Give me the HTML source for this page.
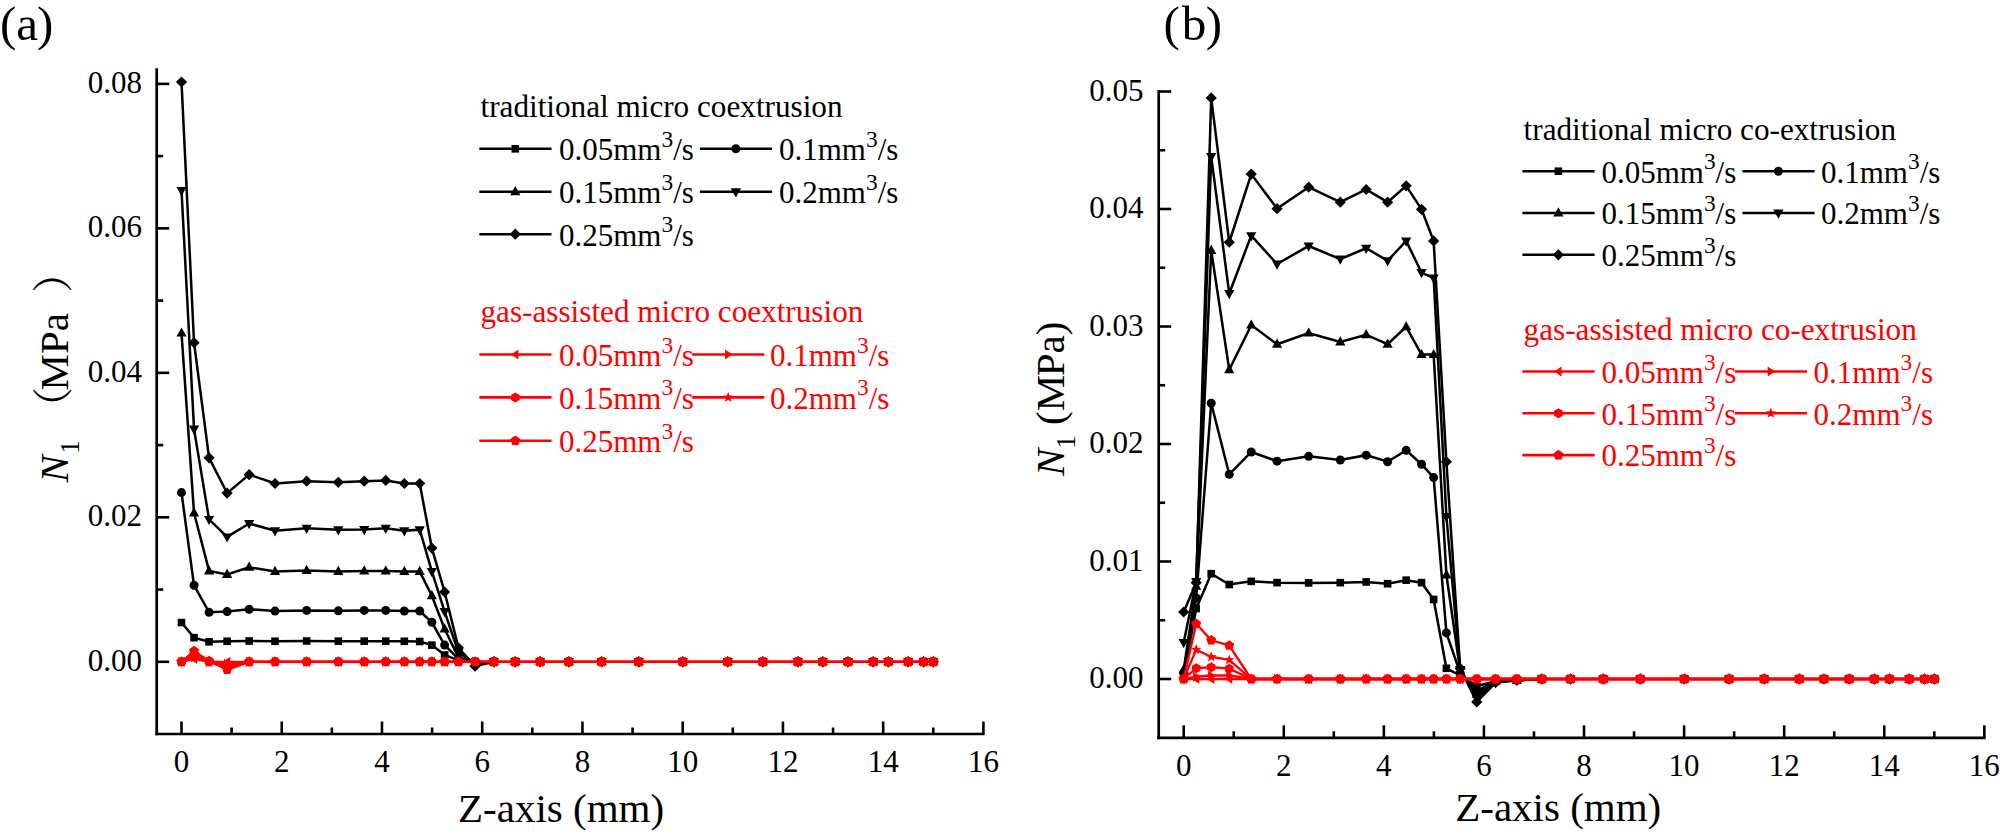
<!DOCTYPE html><html><head><meta charset="utf-8"><title>N1 vs Z-axis</title><style>
html,body{margin:0;padding:0;background:#fff;}svg{display:block;}
text{font-family:'Liberation Serif', 'Times New Roman', serif;}
.tk{font-size:31px;} .lg{font-size:31px;} .sup{font-size:23.4px;} .lt{font-size:31.2px;} .ax{font-size:41px;} .pl{font-size:49px;}
</style></head><body>
<svg width="2000" height="835" viewBox="0 0 2000 835">
<rect width="2000" height="835" fill="#fff"/>
<line x1="156.70" y1="68.30" x2="156.70" y2="735.35" stroke="#000" stroke-width="2.7"/>
<line x1="155.35" y1="734.00" x2="984.60" y2="734.00" stroke="#000" stroke-width="2.7"/>
<line x1="181.50" y1="734.00" x2="181.50" y2="721.50" stroke="#000" stroke-width="2.6"/>
<text x="181.50" y="772.00" text-anchor="middle" class="tk">0</text>
<line x1="231.62" y1="734.00" x2="231.62" y2="727.50" stroke="#000" stroke-width="2.6"/>
<line x1="281.74" y1="734.00" x2="281.74" y2="721.50" stroke="#000" stroke-width="2.6"/>
<text x="281.74" y="772.00" text-anchor="middle" class="tk">2</text>
<line x1="331.86" y1="734.00" x2="331.86" y2="727.50" stroke="#000" stroke-width="2.6"/>
<line x1="381.98" y1="734.00" x2="381.98" y2="721.50" stroke="#000" stroke-width="2.6"/>
<text x="381.98" y="772.00" text-anchor="middle" class="tk">4</text>
<line x1="432.10" y1="734.00" x2="432.10" y2="727.50" stroke="#000" stroke-width="2.6"/>
<line x1="482.22" y1="734.00" x2="482.22" y2="721.50" stroke="#000" stroke-width="2.6"/>
<text x="482.22" y="772.00" text-anchor="middle" class="tk">6</text>
<line x1="532.34" y1="734.00" x2="532.34" y2="727.50" stroke="#000" stroke-width="2.6"/>
<line x1="582.46" y1="734.00" x2="582.46" y2="721.50" stroke="#000" stroke-width="2.6"/>
<text x="582.46" y="772.00" text-anchor="middle" class="tk">8</text>
<line x1="632.58" y1="734.00" x2="632.58" y2="727.50" stroke="#000" stroke-width="2.6"/>
<line x1="682.70" y1="734.00" x2="682.70" y2="721.50" stroke="#000" stroke-width="2.6"/>
<text x="682.70" y="772.00" text-anchor="middle" class="tk">10</text>
<line x1="732.82" y1="734.00" x2="732.82" y2="727.50" stroke="#000" stroke-width="2.6"/>
<line x1="782.94" y1="734.00" x2="782.94" y2="721.50" stroke="#000" stroke-width="2.6"/>
<text x="782.94" y="772.00" text-anchor="middle" class="tk">12</text>
<line x1="833.06" y1="734.00" x2="833.06" y2="727.50" stroke="#000" stroke-width="2.6"/>
<line x1="883.18" y1="734.00" x2="883.18" y2="721.50" stroke="#000" stroke-width="2.6"/>
<text x="883.18" y="772.00" text-anchor="middle" class="tk">14</text>
<line x1="933.30" y1="734.00" x2="933.30" y2="727.50" stroke="#000" stroke-width="2.6"/>
<line x1="983.42" y1="734.00" x2="983.42" y2="721.50" stroke="#000" stroke-width="2.6"/>
<text x="983.42" y="772.00" text-anchor="middle" class="tk">16</text>
<line x1="156.70" y1="661.80" x2="169.20" y2="661.80" stroke="#000" stroke-width="2.6"/>
<text x="142.00" y="670.80" text-anchor="end" class="tk">0.00</text>
<line x1="156.70" y1="589.56" x2="163.20" y2="589.56" stroke="#000" stroke-width="2.6"/>
<line x1="156.70" y1="517.32" x2="169.20" y2="517.32" stroke="#000" stroke-width="2.6"/>
<text x="142.00" y="526.32" text-anchor="end" class="tk">0.02</text>
<line x1="156.70" y1="445.08" x2="163.20" y2="445.08" stroke="#000" stroke-width="2.6"/>
<line x1="156.70" y1="372.84" x2="169.20" y2="372.84" stroke="#000" stroke-width="2.6"/>
<text x="142.00" y="381.84" text-anchor="end" class="tk">0.04</text>
<line x1="156.70" y1="300.60" x2="163.20" y2="300.60" stroke="#000" stroke-width="2.6"/>
<line x1="156.70" y1="228.36" x2="169.20" y2="228.36" stroke="#000" stroke-width="2.6"/>
<text x="142.00" y="237.36" text-anchor="end" class="tk">0.06</text>
<line x1="156.70" y1="156.12" x2="163.20" y2="156.12" stroke="#000" stroke-width="2.6"/>
<line x1="156.70" y1="83.88" x2="169.20" y2="83.88" stroke="#000" stroke-width="2.6"/>
<text x="142.00" y="92.88" text-anchor="end" class="tk">0.08</text>
<polyline points="181.50,622.57 194.03,637.67 209.07,641.79 227.11,641.28 249.16,640.99 275.02,641.28 306.65,640.99 338.33,641.14 364.24,641.14 385.74,641.14 404.33,641.28 419.72,641.50 431.85,645.11 444.63,655.01 458.41,660.36 475.05,661.80" fill="none" stroke="#000" stroke-width="2.5" stroke-linejoin="miter" stroke-miterlimit="3"/><rect x="177.70" y="618.77" width="7.6" height="7.6" fill="#000"/><rect x="190.23" y="633.87" width="7.6" height="7.6" fill="#000"/><rect x="205.27" y="637.99" width="7.6" height="7.6" fill="#000"/><rect x="223.31" y="637.48" width="7.6" height="7.6" fill="#000"/><rect x="245.36" y="637.19" width="7.6" height="7.6" fill="#000"/><rect x="271.22" y="637.48" width="7.6" height="7.6" fill="#000"/><rect x="302.85" y="637.19" width="7.6" height="7.6" fill="#000"/><rect x="334.53" y="637.34" width="7.6" height="7.6" fill="#000"/><rect x="360.44" y="637.34" width="7.6" height="7.6" fill="#000"/><rect x="381.94" y="637.34" width="7.6" height="7.6" fill="#000"/><rect x="400.53" y="637.48" width="7.6" height="7.6" fill="#000"/><rect x="415.92" y="637.70" width="7.6" height="7.6" fill="#000"/><rect x="428.05" y="641.31" width="7.6" height="7.6" fill="#000"/><rect x="440.83" y="651.21" width="7.6" height="7.6" fill="#000"/><rect x="454.61" y="656.56" width="7.6" height="7.6" fill="#000"/><rect x="471.25" y="658.00" width="7.6" height="7.6" fill="#000"/><rect x="490.10" y="658.00" width="7.6" height="7.6" fill="#000"/><rect x="511.35" y="658.00" width="7.6" height="7.6" fill="#000"/><rect x="536.36" y="658.00" width="7.6" height="7.6" fill="#000"/><rect x="565.03" y="658.00" width="7.6" height="7.6" fill="#000"/><rect x="597.91" y="658.00" width="7.6" height="7.6" fill="#000"/><rect x="634.99" y="658.00" width="7.6" height="7.6" fill="#000"/><rect x="679.05" y="658.00" width="7.6" height="7.6" fill="#000"/><rect x="723.91" y="658.00" width="7.6" height="7.6" fill="#000"/><rect x="759.09" y="658.00" width="7.6" height="7.6" fill="#000"/><rect x="794.18" y="658.00" width="7.6" height="7.6" fill="#000"/><rect x="818.99" y="658.00" width="7.6" height="7.6" fill="#000"/><rect x="844.20" y="658.00" width="7.6" height="7.6" fill="#000"/><rect x="869.41" y="658.00" width="7.6" height="7.6" fill="#000"/><rect x="884.49" y="658.00" width="7.6" height="7.6" fill="#000"/><rect x="904.39" y="658.00" width="7.6" height="7.6" fill="#000"/><rect x="919.78" y="658.00" width="7.6" height="7.6" fill="#000"/><rect x="929.50" y="658.00" width="7.6" height="7.6" fill="#000"/>
<polyline points="181.50,492.61 194.03,585.30 209.07,612.32 227.11,611.59 249.16,609.21 275.02,611.09 306.65,610.44 338.33,610.87 364.24,610.44 385.74,610.44 404.33,611.02 419.72,611.02 431.85,622.28 444.63,645.11 458.41,658.91 475.05,661.80" fill="none" stroke="#000" stroke-width="2.5" stroke-linejoin="miter" stroke-miterlimit="3"/><circle cx="181.50" cy="492.61" r="4.5" fill="#000"/><circle cx="194.03" cy="585.30" r="4.5" fill="#000"/><circle cx="209.07" cy="612.32" r="4.5" fill="#000"/><circle cx="227.11" cy="611.59" r="4.5" fill="#000"/><circle cx="249.16" cy="609.21" r="4.5" fill="#000"/><circle cx="275.02" cy="611.09" r="4.5" fill="#000"/><circle cx="306.65" cy="610.44" r="4.5" fill="#000"/><circle cx="338.33" cy="610.87" r="4.5" fill="#000"/><circle cx="364.24" cy="610.44" r="4.5" fill="#000"/><circle cx="385.74" cy="610.44" r="4.5" fill="#000"/><circle cx="404.33" cy="611.02" r="4.5" fill="#000"/><circle cx="419.72" cy="611.02" r="4.5" fill="#000"/><circle cx="431.85" cy="622.28" r="4.5" fill="#000"/><circle cx="444.63" cy="645.11" r="4.5" fill="#000"/><circle cx="458.41" cy="658.91" r="4.5" fill="#000"/><circle cx="475.05" cy="661.80" r="4.5" fill="#000"/><circle cx="493.90" cy="661.80" r="4.5" fill="#000"/><circle cx="515.15" cy="661.80" r="4.5" fill="#000"/><circle cx="540.16" cy="661.80" r="4.5" fill="#000"/><circle cx="568.83" cy="661.80" r="4.5" fill="#000"/><circle cx="601.71" cy="661.80" r="4.5" fill="#000"/><circle cx="638.79" cy="661.80" r="4.5" fill="#000"/><circle cx="682.85" cy="661.80" r="4.5" fill="#000"/><circle cx="727.71" cy="661.80" r="4.5" fill="#000"/><circle cx="762.89" cy="661.80" r="4.5" fill="#000"/><circle cx="797.98" cy="661.80" r="4.5" fill="#000"/><circle cx="822.79" cy="661.80" r="4.5" fill="#000"/><circle cx="848.00" cy="661.80" r="4.5" fill="#000"/><circle cx="873.21" cy="661.80" r="4.5" fill="#000"/><circle cx="888.29" cy="661.80" r="4.5" fill="#000"/><circle cx="908.19" cy="661.80" r="4.5" fill="#000"/><circle cx="923.58" cy="661.80" r="4.5" fill="#000"/><circle cx="933.30" cy="661.80" r="4.5" fill="#000"/>
<polyline points="181.50,333.11 194.03,512.91 209.07,570.92 227.11,574.53 249.16,567.31 275.02,571.43 306.65,570.42 338.33,571.43 364.24,570.92 385.74,570.92 404.33,571.57 419.72,571.57 431.85,595.70 444.63,628.93 458.41,657.47 475.05,662.52 493.90,661.80" fill="none" stroke="#000" stroke-width="2.5" stroke-linejoin="miter" stroke-miterlimit="3"/><polygon points="181.50,327.40 186.60,336.60 176.40,336.60" fill="#000"/><polygon points="194.03,507.21 199.13,516.41 188.93,516.41" fill="#000"/><polygon points="209.07,565.22 214.17,574.42 203.97,574.42" fill="#000"/><polygon points="227.11,568.83 232.21,578.03 222.01,578.03" fill="#000"/><polygon points="249.16,561.61 254.26,570.81 244.06,570.81" fill="#000"/><polygon points="275.02,565.72 280.12,574.92 269.92,574.92" fill="#000"/><polygon points="306.65,564.71 311.75,573.91 301.55,573.91" fill="#000"/><polygon points="338.33,565.72 343.43,574.92 333.23,574.92" fill="#000"/><polygon points="364.24,565.22 369.34,574.42 359.14,574.42" fill="#000"/><polygon points="385.74,565.22 390.84,574.42 380.64,574.42" fill="#000"/><polygon points="404.33,565.87 409.43,575.07 399.23,575.07" fill="#000"/><polygon points="419.72,565.87 424.82,575.07 414.62,575.07" fill="#000"/><polygon points="431.85,590.00 436.95,599.20 426.75,599.20" fill="#000"/><polygon points="444.63,623.23 449.73,632.43 439.53,632.43" fill="#000"/><polygon points="458.41,651.76 463.51,660.96 453.31,660.96" fill="#000"/><polygon points="475.05,656.82 480.15,666.02 469.95,666.02" fill="#000"/><polygon points="493.90,656.10 499.00,665.30 488.80,665.30" fill="#000"/><polygon points="515.15,656.10 520.25,665.30 510.05,665.30" fill="#000"/><polygon points="540.16,656.10 545.26,665.30 535.06,665.30" fill="#000"/><polygon points="568.83,656.10 573.93,665.30 563.73,665.30" fill="#000"/><polygon points="601.71,656.10 606.81,665.30 596.61,665.30" fill="#000"/><polygon points="638.79,656.10 643.89,665.30 633.69,665.30" fill="#000"/><polygon points="682.85,656.10 687.95,665.30 677.75,665.30" fill="#000"/><polygon points="727.71,656.10 732.81,665.30 722.61,665.30" fill="#000"/><polygon points="762.89,656.10 767.99,665.30 757.79,665.30" fill="#000"/><polygon points="797.98,656.10 803.08,665.30 792.88,665.30" fill="#000"/><polygon points="822.79,656.10 827.89,665.30 817.69,665.30" fill="#000"/><polygon points="848.00,656.10 853.10,665.30 842.90,665.30" fill="#000"/><polygon points="873.21,656.10 878.31,665.30 868.11,665.30" fill="#000"/><polygon points="888.29,656.10 893.39,665.30 883.19,665.30" fill="#000"/><polygon points="908.19,656.10 913.29,665.30 903.09,665.30" fill="#000"/><polygon points="923.58,656.10 928.68,665.30 918.48,665.30" fill="#000"/><polygon points="933.30,656.10 938.40,665.30 928.20,665.30" fill="#000"/>
<polyline points="181.50,190.43 194.03,429.11 209.07,519.41 227.11,536.90 249.16,523.53 275.02,530.68 306.65,528.30 338.33,529.67 364.24,529.53 385.74,528.30 404.33,530.68 419.72,529.67 431.85,571.43 444.63,611.59 458.41,652.41 475.05,663.24 493.90,661.80" fill="none" stroke="#000" stroke-width="2.5" stroke-linejoin="miter" stroke-miterlimit="3"/><polygon points="181.50,196.14 186.60,186.94 176.40,186.94" fill="#000"/><polygon points="194.03,434.82 199.13,425.62 188.93,425.62" fill="#000"/><polygon points="209.07,525.12 214.17,515.92 203.97,515.92" fill="#000"/><polygon points="227.11,542.60 232.21,533.40 222.01,533.40" fill="#000"/><polygon points="249.16,529.24 254.26,520.04 244.06,520.04" fill="#000"/><polygon points="275.02,536.39 280.12,527.19 269.92,527.19" fill="#000"/><polygon points="306.65,534.00 311.75,524.80 301.55,524.80" fill="#000"/><polygon points="338.33,535.38 343.43,526.18 333.23,526.18" fill="#000"/><polygon points="364.24,535.23 369.34,526.03 359.14,526.03" fill="#000"/><polygon points="385.74,534.00 390.84,524.80 380.64,524.80" fill="#000"/><polygon points="404.33,536.39 409.43,527.19 399.23,527.19" fill="#000"/><polygon points="419.72,535.38 424.82,526.18 414.62,526.18" fill="#000"/><polygon points="431.85,577.13 436.95,567.93 426.75,567.93" fill="#000"/><polygon points="444.63,617.30 449.73,608.10 439.53,608.10" fill="#000"/><polygon points="458.41,658.11 463.51,648.91 453.31,648.91" fill="#000"/><polygon points="475.05,668.95 480.15,659.75 469.95,659.75" fill="#000"/><polygon points="493.90,667.50 499.00,658.30 488.80,658.30" fill="#000"/><polygon points="515.15,667.50 520.25,658.30 510.05,658.30" fill="#000"/><polygon points="540.16,667.50 545.26,658.30 535.06,658.30" fill="#000"/><polygon points="568.83,667.50 573.93,658.30 563.73,658.30" fill="#000"/><polygon points="601.71,667.50 606.81,658.30 596.61,658.30" fill="#000"/><polygon points="638.79,667.50 643.89,658.30 633.69,658.30" fill="#000"/><polygon points="682.85,667.50 687.95,658.30 677.75,658.30" fill="#000"/><polygon points="727.71,667.50 732.81,658.30 722.61,658.30" fill="#000"/><polygon points="762.89,667.50 767.99,658.30 757.79,658.30" fill="#000"/><polygon points="797.98,667.50 803.08,658.30 792.88,658.30" fill="#000"/><polygon points="822.79,667.50 827.89,658.30 817.69,658.30" fill="#000"/><polygon points="848.00,667.50 853.10,658.30 842.90,658.30" fill="#000"/><polygon points="873.21,667.50 878.31,658.30 868.11,658.30" fill="#000"/><polygon points="888.29,667.50 893.39,658.30 883.19,658.30" fill="#000"/><polygon points="908.19,667.50 913.29,658.30 903.09,658.30" fill="#000"/><polygon points="923.58,667.50 928.68,658.30 918.48,658.30" fill="#000"/><polygon points="933.30,667.50 938.40,658.30 928.20,658.30" fill="#000"/>
<polyline points="181.50,82.00 194.03,342.72 209.07,457.79 227.11,493.12 249.16,474.63 275.02,483.51 306.65,481.13 338.33,482.28 364.24,481.13 385.74,480.41 404.33,483.51 419.72,483.51 431.85,548.09 444.63,592.02 458.41,647.79 475.05,666.13 493.90,661.80" fill="none" stroke="#000" stroke-width="2.5" stroke-linejoin="miter" stroke-miterlimit="3"/><polygon points="181.50,76.40 187.10,82.00 181.50,87.60 175.90,82.00" fill="#000"/><polygon points="194.03,337.12 199.63,342.72 194.03,348.32 188.43,342.72" fill="#000"/><polygon points="209.07,452.19 214.67,457.79 209.07,463.39 203.47,457.79" fill="#000"/><polygon points="227.11,487.52 232.71,493.12 227.11,498.72 221.51,493.12" fill="#000"/><polygon points="249.16,469.03 254.76,474.63 249.16,480.23 243.56,474.63" fill="#000"/><polygon points="275.02,477.91 280.62,483.51 275.02,489.11 269.42,483.51" fill="#000"/><polygon points="306.65,475.53 312.25,481.13 306.65,486.73 301.05,481.13" fill="#000"/><polygon points="338.33,476.68 343.93,482.28 338.33,487.88 332.73,482.28" fill="#000"/><polygon points="364.24,475.53 369.84,481.13 364.24,486.73 358.64,481.13" fill="#000"/><polygon points="385.74,474.81 391.34,480.41 385.74,486.01 380.14,480.41" fill="#000"/><polygon points="404.33,477.91 409.93,483.51 404.33,489.11 398.73,483.51" fill="#000"/><polygon points="419.72,477.91 425.32,483.51 419.72,489.11 414.12,483.51" fill="#000"/><polygon points="431.85,542.49 437.45,548.09 431.85,553.69 426.25,548.09" fill="#000"/><polygon points="444.63,586.42 450.23,592.02 444.63,597.62 439.03,592.02" fill="#000"/><polygon points="458.41,642.19 464.01,647.79 458.41,653.39 452.81,647.79" fill="#000"/><polygon points="475.05,660.53 480.65,666.13 475.05,671.73 469.45,666.13" fill="#000"/><polygon points="493.90,656.20 499.50,661.80 493.90,667.40 488.30,661.80" fill="#000"/><polygon points="515.15,656.20 520.75,661.80 515.15,667.40 509.55,661.80" fill="#000"/><polygon points="540.16,656.20 545.76,661.80 540.16,667.40 534.56,661.80" fill="#000"/><polygon points="568.83,656.20 574.43,661.80 568.83,667.40 563.23,661.80" fill="#000"/><polygon points="601.71,656.20 607.31,661.80 601.71,667.40 596.11,661.80" fill="#000"/><polygon points="638.79,656.20 644.39,661.80 638.79,667.40 633.19,661.80" fill="#000"/><polygon points="682.85,656.20 688.45,661.80 682.85,667.40 677.25,661.80" fill="#000"/><polygon points="727.71,656.20 733.31,661.80 727.71,667.40 722.11,661.80" fill="#000"/><polygon points="762.89,656.20 768.49,661.80 762.89,667.40 757.29,661.80" fill="#000"/><polygon points="797.98,656.20 803.58,661.80 797.98,667.40 792.38,661.80" fill="#000"/><polygon points="822.79,656.20 828.39,661.80 822.79,667.40 817.19,661.80" fill="#000"/><polygon points="848.00,656.20 853.60,661.80 848.00,667.40 842.40,661.80" fill="#000"/><polygon points="873.21,656.20 878.81,661.80 873.21,667.40 867.61,661.80" fill="#000"/><polygon points="888.29,656.20 893.89,661.80 888.29,667.40 882.69,661.80" fill="#000"/><polygon points="908.19,656.20 913.79,661.80 908.19,667.40 902.59,661.80" fill="#000"/><polygon points="923.58,656.20 929.18,661.80 923.58,667.40 917.98,661.80" fill="#000"/><polygon points="933.30,656.20 938.90,661.80 933.30,667.40 927.70,661.80" fill="#000"/>
<polyline points="181.50,661.80 194.03,658.91 209.07,661.80 227.11,661.80 249.16,661.80 275.02,661.80 306.65,661.80 338.33,661.80 364.24,661.80 385.74,661.80 404.33,661.80 419.72,661.80 431.85,661.80 444.63,661.80 458.41,661.80 475.05,661.80 493.90,661.80 515.15,661.80 540.16,661.80 568.83,661.80 601.71,661.80 638.79,661.80 682.85,661.80 727.71,661.80 762.89,661.80 797.98,661.80 822.79,661.80 848.00,661.80 873.21,661.80 888.29,661.80 908.19,661.80 923.58,661.80 933.30,661.80" fill="none" stroke="#f00" stroke-width="2.3" stroke-linejoin="miter" stroke-miterlimit="3"/><polygon points="177.21,661.80 184.61,656.70 184.61,666.90" fill="#f00"/><polygon points="189.74,658.91 197.14,653.81 197.14,664.01" fill="#f00"/><polygon points="204.77,661.80 212.17,656.70 212.17,666.90" fill="#f00"/><polygon points="222.82,661.80 230.22,656.70 230.22,666.90" fill="#f00"/><polygon points="244.87,661.80 252.27,656.70 252.27,666.90" fill="#f00"/><polygon points="270.73,661.80 278.13,656.70 278.13,666.90" fill="#f00"/><polygon points="302.36,661.80 309.76,656.70 309.76,666.90" fill="#f00"/><polygon points="334.03,661.80 341.43,656.70 341.43,666.90" fill="#f00"/><polygon points="359.95,661.80 367.35,656.70 367.35,666.90" fill="#f00"/><polygon points="381.45,661.80 388.85,656.70 388.85,666.90" fill="#f00"/><polygon points="400.04,661.80 407.44,656.70 407.44,666.90" fill="#f00"/><polygon points="415.43,661.80 422.83,656.70 422.83,666.90" fill="#f00"/><polygon points="427.56,661.80 434.96,656.70 434.96,666.90" fill="#f00"/><polygon points="440.34,661.80 447.74,656.70 447.74,666.90" fill="#f00"/><polygon points="454.12,661.80 461.52,656.70 461.52,666.90" fill="#f00"/><polygon points="470.76,661.80 478.16,656.70 478.16,666.90" fill="#f00"/><polygon points="489.61,661.80 497.01,656.70 497.01,666.90" fill="#f00"/><polygon points="510.86,661.80 518.26,656.70 518.26,666.90" fill="#f00"/><polygon points="535.87,661.80 543.27,656.70 543.27,666.90" fill="#f00"/><polygon points="564.54,661.80 571.94,656.70 571.94,666.90" fill="#f00"/><polygon points="597.41,661.80 604.81,656.70 604.81,666.90" fill="#f00"/><polygon points="634.50,661.80 641.90,656.70 641.90,666.90" fill="#f00"/><polygon points="678.56,661.80 685.96,656.70 685.96,666.90" fill="#f00"/><polygon points="723.42,661.80 730.82,656.70 730.82,666.90" fill="#f00"/><polygon points="758.60,661.80 766.00,656.70 766.00,666.90" fill="#f00"/><polygon points="793.68,661.80 801.08,656.70 801.08,666.90" fill="#f00"/><polygon points="818.49,661.80 825.89,656.70 825.89,666.90" fill="#f00"/><polygon points="843.70,661.80 851.10,656.70 851.10,666.90" fill="#f00"/><polygon points="868.91,661.80 876.31,656.70 876.31,666.90" fill="#f00"/><polygon points="884.00,661.80 891.40,656.70 891.40,666.90" fill="#f00"/><polygon points="903.90,661.80 911.30,656.70 911.30,666.90" fill="#f00"/><polygon points="919.28,661.80 926.68,656.70 926.68,666.90" fill="#f00"/><polygon points="929.01,661.80 936.41,656.70 936.41,666.90" fill="#f00"/>
<polyline points="181.50,661.80 194.03,657.47 209.07,661.80 227.11,663.97 249.16,661.80 275.02,661.80 306.65,661.80 338.33,661.80 364.24,661.80 385.74,661.80 404.33,661.80 419.72,661.80 431.85,661.80 444.63,661.80 458.41,661.80 475.05,661.80 493.90,661.80 515.15,661.80 540.16,661.80 568.83,661.80 601.71,661.80 638.79,661.80 682.85,661.80 727.71,661.80 762.89,661.80 797.98,661.80 822.79,661.80 848.00,661.80 873.21,661.80 888.29,661.80 908.19,661.80 923.58,661.80 933.30,661.80" fill="none" stroke="#f00" stroke-width="2.3" stroke-linejoin="miter" stroke-miterlimit="3"/><polygon points="185.79,661.80 178.39,656.70 178.39,666.90" fill="#f00"/><polygon points="198.32,657.47 190.92,652.37 190.92,662.57" fill="#f00"/><polygon points="213.36,661.80 205.96,656.70 205.96,666.90" fill="#f00"/><polygon points="231.40,663.97 224.00,658.87 224.00,669.07" fill="#f00"/><polygon points="253.45,661.80 246.05,656.70 246.05,666.90" fill="#f00"/><polygon points="279.32,661.80 271.92,656.70 271.92,666.90" fill="#f00"/><polygon points="310.94,661.80 303.54,656.70 303.54,666.90" fill="#f00"/><polygon points="342.62,661.80 335.22,656.70 335.22,666.90" fill="#f00"/><polygon points="368.53,661.80 361.13,656.70 361.13,666.90" fill="#f00"/><polygon points="390.03,661.80 382.63,656.70 382.63,666.90" fill="#f00"/><polygon points="408.63,661.80 401.23,656.70 401.23,666.90" fill="#f00"/><polygon points="424.01,661.80 416.61,656.70 416.61,666.90" fill="#f00"/><polygon points="436.14,661.80 428.74,656.70 428.74,666.90" fill="#f00"/><polygon points="448.92,661.80 441.52,656.70 441.52,666.90" fill="#f00"/><polygon points="462.70,661.80 455.31,656.70 455.31,666.90" fill="#f00"/><polygon points="479.34,661.80 471.94,656.70 471.94,666.90" fill="#f00"/><polygon points="498.19,661.80 490.79,656.70 490.79,666.90" fill="#f00"/><polygon points="519.44,661.80 512.04,656.70 512.04,666.90" fill="#f00"/><polygon points="544.45,661.80 537.05,656.70 537.05,666.90" fill="#f00"/><polygon points="573.12,661.80 565.72,656.70 565.72,666.90" fill="#f00"/><polygon points="606.00,661.80 598.60,656.70 598.60,666.90" fill="#f00"/><polygon points="643.09,661.80 635.69,656.70 635.69,666.90" fill="#f00"/><polygon points="687.14,661.80 679.74,656.70 679.74,666.90" fill="#f00"/><polygon points="732.00,661.80 724.60,656.70 724.60,666.90" fill="#f00"/><polygon points="767.18,661.80 759.78,656.70 759.78,666.90" fill="#f00"/><polygon points="802.27,661.80 794.87,656.70 794.87,666.90" fill="#f00"/><polygon points="827.08,661.80 819.68,656.70 819.68,666.90" fill="#f00"/><polygon points="852.29,661.80 844.89,656.70 844.89,666.90" fill="#f00"/><polygon points="877.50,661.80 870.10,656.70 870.10,666.90" fill="#f00"/><polygon points="892.58,661.80 885.18,656.70 885.18,666.90" fill="#f00"/><polygon points="912.48,661.80 905.08,656.70 905.08,666.90" fill="#f00"/><polygon points="927.87,661.80 920.47,656.70 920.47,666.90" fill="#f00"/><polygon points="937.59,661.80 930.19,656.70 930.19,666.90" fill="#f00"/>
<polyline points="181.50,661.80 194.03,656.02 209.07,661.80 227.11,666.13 249.16,661.80 275.02,661.80 306.65,661.80 338.33,661.80 364.24,661.80 385.74,661.80 404.33,661.80 419.72,661.80 431.85,661.80 444.63,661.80 458.41,661.80 475.05,661.80 493.90,661.80 515.15,661.80 540.16,661.80 568.83,661.80 601.71,661.80 638.79,661.80 682.85,661.80 727.71,661.80 762.89,661.80 797.98,661.80 822.79,661.80 848.00,661.80 873.21,661.80 888.29,661.80 908.19,661.80 923.58,661.80 933.30,661.80" fill="none" stroke="#f00" stroke-width="2.3" stroke-linejoin="miter" stroke-miterlimit="3"/><polygon points="181.50,656.80 177.17,659.30 177.17,664.30 181.50,666.80 185.83,664.30 185.83,659.30" fill="#f00"/><polygon points="194.03,651.02 189.70,653.52 189.70,658.52 194.03,661.02 198.36,658.52 198.36,653.52" fill="#f00"/><polygon points="209.07,656.80 204.74,659.30 204.74,664.30 209.07,666.80 213.40,664.30 213.40,659.30" fill="#f00"/><polygon points="227.11,661.13 222.78,663.63 222.78,668.63 227.11,671.13 231.44,668.63 231.44,663.63" fill="#f00"/><polygon points="249.16,656.80 244.83,659.30 244.83,664.30 249.16,666.80 253.49,664.30 253.49,659.30" fill="#f00"/><polygon points="275.02,656.80 270.69,659.30 270.69,664.30 275.02,666.80 279.35,664.30 279.35,659.30" fill="#f00"/><polygon points="306.65,656.80 302.32,659.30 302.32,664.30 306.65,666.80 310.98,664.30 310.98,659.30" fill="#f00"/><polygon points="338.33,656.80 334.00,659.30 334.00,664.30 338.33,666.80 342.66,664.30 342.66,659.30" fill="#f00"/><polygon points="364.24,656.80 359.91,659.30 359.91,664.30 364.24,666.80 368.57,664.30 368.57,659.30" fill="#f00"/><polygon points="385.74,656.80 381.41,659.30 381.41,664.30 385.74,666.80 390.07,664.30 390.07,659.30" fill="#f00"/><polygon points="404.33,656.80 400.00,659.30 400.00,664.30 404.33,666.80 408.66,664.30 408.66,659.30" fill="#f00"/><polygon points="419.72,656.80 415.39,659.30 415.39,664.30 419.72,666.80 424.05,664.30 424.05,659.30" fill="#f00"/><polygon points="431.85,656.80 427.52,659.30 427.52,664.30 431.85,666.80 436.18,664.30 436.18,659.30" fill="#f00"/><polygon points="444.63,656.80 440.30,659.30 440.30,664.30 444.63,666.80 448.96,664.30 448.96,659.30" fill="#f00"/><polygon points="458.41,656.80 454.08,659.30 454.08,664.30 458.41,666.80 462.74,664.30 462.74,659.30" fill="#f00"/><polygon points="475.05,656.80 470.72,659.30 470.72,664.30 475.05,666.80 479.38,664.30 479.38,659.30" fill="#f00"/><polygon points="493.90,656.80 489.57,659.30 489.57,664.30 493.90,666.80 498.23,664.30 498.23,659.30" fill="#f00"/><polygon points="515.15,656.80 510.82,659.30 510.82,664.30 515.15,666.80 519.48,664.30 519.48,659.30" fill="#f00"/><polygon points="540.16,656.80 535.83,659.30 535.83,664.30 540.16,666.80 544.49,664.30 544.49,659.30" fill="#f00"/><polygon points="568.83,656.80 564.50,659.30 564.50,664.30 568.83,666.80 573.16,664.30 573.16,659.30" fill="#f00"/><polygon points="601.71,656.80 597.38,659.30 597.38,664.30 601.71,666.80 606.04,664.30 606.04,659.30" fill="#f00"/><polygon points="638.79,656.80 634.46,659.30 634.46,664.30 638.79,666.80 643.13,664.30 643.13,659.30" fill="#f00"/><polygon points="682.85,656.80 678.52,659.30 678.52,664.30 682.85,666.80 687.18,664.30 687.18,659.30" fill="#f00"/><polygon points="727.71,656.80 723.38,659.30 723.38,664.30 727.71,666.80 732.04,664.30 732.04,659.30" fill="#f00"/><polygon points="762.89,656.80 758.56,659.30 758.56,664.30 762.89,666.80 767.22,664.30 767.22,659.30" fill="#f00"/><polygon points="797.98,656.80 793.65,659.30 793.65,664.30 797.98,666.80 802.31,664.30 802.31,659.30" fill="#f00"/><polygon points="822.79,656.80 818.46,659.30 818.46,664.30 822.79,666.80 827.12,664.30 827.12,659.30" fill="#f00"/><polygon points="848.00,656.80 843.67,659.30 843.67,664.30 848.00,666.80 852.33,664.30 852.33,659.30" fill="#f00"/><polygon points="873.21,656.80 868.88,659.30 868.88,664.30 873.21,666.80 877.54,664.30 877.54,659.30" fill="#f00"/><polygon points="888.29,656.80 883.96,659.30 883.96,664.30 888.29,666.80 892.62,664.30 892.62,659.30" fill="#f00"/><polygon points="908.19,656.80 903.86,659.30 903.86,664.30 908.19,666.80 912.52,664.30 912.52,659.30" fill="#f00"/><polygon points="923.58,656.80 919.25,659.30 919.25,664.30 923.58,666.80 927.91,664.30 927.91,659.30" fill="#f00"/><polygon points="933.30,656.80 928.97,659.30 928.97,664.30 933.30,666.80 937.63,664.30 937.63,659.30" fill="#f00"/>
<polyline points="181.50,661.80 194.03,653.85 209.07,661.80 227.11,667.58 249.16,661.80 275.02,661.80 306.65,661.80 338.33,661.80 364.24,661.80 385.74,661.80 404.33,661.80 419.72,661.80 431.85,661.80 444.63,661.80 458.41,661.80 475.05,661.80 493.90,661.80 515.15,661.80 540.16,661.80 568.83,661.80 601.71,661.80 638.79,661.80 682.85,661.80 727.71,661.80 762.89,661.80 797.98,661.80 822.79,661.80 848.00,661.80 873.21,661.80 888.29,661.80 908.19,661.80 923.58,661.80 933.30,661.80" fill="none" stroke="#f00" stroke-width="2.3" stroke-linejoin="miter" stroke-miterlimit="3"/><polygon points="181.50,656.20 180.09,659.86 176.17,660.07 179.22,662.54 178.21,666.33 181.50,664.20 184.79,666.33 183.78,662.54 186.83,660.07 182.91,659.86" fill="#f00"/><polygon points="194.03,648.25 192.62,651.91 188.70,652.12 191.75,654.60 190.74,658.38 194.03,656.25 197.32,658.38 196.31,654.60 199.36,652.12 195.44,651.91" fill="#f00"/><polygon points="209.07,656.20 207.66,659.86 203.74,660.07 206.78,662.54 205.77,666.33 209.07,664.20 212.36,666.33 211.35,662.54 214.39,660.07 210.48,659.86" fill="#f00"/><polygon points="227.11,661.98 225.70,665.64 221.78,665.85 224.83,668.32 223.82,672.11 227.11,669.98 230.40,672.11 229.39,668.32 232.44,665.85 228.52,665.64" fill="#f00"/><polygon points="249.16,656.20 247.75,659.86 243.84,660.07 246.88,662.54 245.87,666.33 249.16,664.20 252.45,666.33 251.44,662.54 254.49,660.07 250.57,659.86" fill="#f00"/><polygon points="275.02,656.20 273.61,659.86 269.70,660.07 272.74,662.54 271.73,666.33 275.02,664.20 278.32,666.33 277.31,662.54 280.35,660.07 276.43,659.86" fill="#f00"/><polygon points="306.65,656.20 305.24,659.86 301.32,660.07 304.37,662.54 303.36,666.33 306.65,664.20 309.94,666.33 308.93,662.54 311.98,660.07 308.06,659.86" fill="#f00"/><polygon points="338.33,656.20 336.91,659.86 333.00,660.07 336.04,662.54 335.03,666.33 338.33,664.20 341.62,666.33 340.61,662.54 343.65,660.07 339.74,659.86" fill="#f00"/><polygon points="364.24,656.20 362.83,659.86 358.91,660.07 361.95,662.54 360.95,666.33 364.24,664.20 367.53,666.33 366.52,662.54 369.56,660.07 365.65,659.86" fill="#f00"/><polygon points="385.74,656.20 384.33,659.86 380.41,660.07 383.46,662.54 382.45,666.33 385.74,664.20 389.03,666.33 388.02,662.54 391.06,660.07 387.15,659.86" fill="#f00"/><polygon points="404.33,656.20 402.92,659.86 399.01,660.07 402.05,662.54 401.04,666.33 404.33,664.20 407.63,666.33 406.62,662.54 409.66,660.07 405.74,659.86" fill="#f00"/><polygon points="419.72,656.20 418.31,659.86 414.39,660.07 417.44,662.54 416.43,666.33 419.72,664.20 423.01,666.33 422.00,662.54 425.05,660.07 421.13,659.86" fill="#f00"/><polygon points="431.85,656.20 430.44,659.86 426.52,660.07 429.57,662.54 428.56,666.33 431.85,664.20 435.14,666.33 434.13,662.54 437.18,660.07 433.26,659.86" fill="#f00"/><polygon points="444.63,656.20 443.22,659.86 439.30,660.07 442.35,662.54 441.34,666.33 444.63,664.20 447.92,666.33 446.91,662.54 449.96,660.07 446.04,659.86" fill="#f00"/><polygon points="458.41,656.20 457.00,659.86 453.09,660.07 456.13,662.54 455.12,666.33 458.41,664.20 461.70,666.33 460.70,662.54 463.74,660.07 459.82,659.86" fill="#f00"/><polygon points="475.05,656.20 473.64,659.86 469.73,660.07 472.77,662.54 471.76,666.33 475.05,664.20 478.34,666.33 477.34,662.54 480.38,660.07 476.46,659.86" fill="#f00"/><polygon points="493.90,656.20 492.49,659.86 488.57,660.07 491.62,662.54 490.61,666.33 493.90,664.20 497.19,666.33 496.18,662.54 499.22,660.07 495.31,659.86" fill="#f00"/><polygon points="515.15,656.20 513.74,659.86 509.82,660.07 512.87,662.54 511.86,666.33 515.15,664.20 518.44,666.33 517.43,662.54 520.47,660.07 516.56,659.86" fill="#f00"/><polygon points="540.16,656.20 538.75,659.86 534.83,660.07 537.88,662.54 536.87,666.33 540.16,664.20 543.45,666.33 542.44,662.54 545.48,660.07 541.57,659.86" fill="#f00"/><polygon points="568.83,656.20 567.42,659.86 563.50,660.07 566.54,662.54 565.54,666.33 568.83,664.20 572.12,666.33 571.11,662.54 574.15,660.07 570.24,659.86" fill="#f00"/><polygon points="601.71,656.20 600.30,659.86 596.38,660.07 599.42,662.54 598.41,666.33 601.71,664.20 605.00,666.33 603.99,662.54 607.03,660.07 603.12,659.86" fill="#f00"/><polygon points="638.79,656.20 637.38,659.86 633.47,660.07 636.51,662.54 635.50,666.33 638.79,664.20 642.09,666.33 641.08,662.54 644.12,660.07 640.21,659.86" fill="#f00"/><polygon points="682.85,656.20 681.44,659.86 677.52,660.07 680.57,662.54 679.56,666.33 682.85,664.20 686.14,666.33 685.13,662.54 688.18,660.07 684.26,659.86" fill="#f00"/><polygon points="727.71,656.20 726.30,659.86 722.38,660.07 725.43,662.54 724.42,666.33 727.71,664.20 731.00,666.33 729.99,662.54 733.03,660.07 729.12,659.86" fill="#f00"/><polygon points="762.89,656.20 761.48,659.86 757.57,660.07 760.61,662.54 759.60,666.33 762.89,664.20 766.18,666.33 765.17,662.54 768.22,660.07 764.30,659.86" fill="#f00"/><polygon points="797.98,656.20 796.57,659.86 792.65,660.07 795.69,662.54 794.68,666.33 797.98,664.20 801.27,666.33 800.26,662.54 803.30,660.07 799.39,659.86" fill="#f00"/><polygon points="822.79,656.20 821.37,659.86 817.46,660.07 820.50,662.54 819.49,666.33 822.79,664.20 826.08,666.33 825.07,662.54 828.11,660.07 824.20,659.86" fill="#f00"/><polygon points="848.00,656.20 846.59,659.86 842.67,660.07 845.71,662.54 844.70,666.33 848.00,664.20 851.29,666.33 850.28,662.54 853.32,660.07 849.41,659.86" fill="#f00"/><polygon points="873.21,656.20 871.80,659.86 867.88,660.07 870.92,662.54 869.91,666.33 873.21,664.20 876.50,666.33 875.49,662.54 878.53,660.07 874.62,659.86" fill="#f00"/><polygon points="888.29,656.20 886.88,659.86 882.97,660.07 886.01,662.54 885.00,666.33 888.29,664.20 891.58,666.33 890.57,662.54 893.62,660.07 889.70,659.86" fill="#f00"/><polygon points="908.19,656.20 906.78,659.86 902.86,660.07 905.91,662.54 904.90,666.33 908.19,664.20 911.48,666.33 910.47,662.54 913.52,660.07 909.60,659.86" fill="#f00"/><polygon points="923.58,656.20 922.17,659.86 918.25,660.07 921.29,662.54 920.29,666.33 923.58,664.20 926.87,666.33 925.86,662.54 928.90,660.07 924.99,659.86" fill="#f00"/><polygon points="933.30,656.20 931.89,659.86 927.97,660.07 931.02,662.54 930.01,666.33 933.30,664.20 936.59,666.33 935.58,662.54 938.63,660.07 934.71,659.86" fill="#f00"/>
<polyline points="181.50,661.80 194.03,650.96 209.07,661.08 227.11,669.75 249.16,661.80 275.02,661.80 306.65,661.80 338.33,661.80 364.24,661.80 385.74,661.80 404.33,661.80 419.72,661.80 431.85,661.80 444.63,661.80 458.41,661.80 475.05,661.80 493.90,661.80 515.15,661.80 540.16,661.80 568.83,661.80 601.71,661.80 638.79,661.80 682.85,661.80 727.71,661.80 762.89,661.80 797.98,661.80 822.79,661.80 848.00,661.80 873.21,661.80 888.29,661.80 908.19,661.80 923.58,661.80 933.30,661.80" fill="none" stroke="#f00" stroke-width="2.3" stroke-linejoin="miter" stroke-miterlimit="3"/><polygon points="181.50,656.50 176.46,660.16 178.38,666.09 184.62,666.09 186.54,660.16" fill="#f00"/><polygon points="194.03,645.66 188.99,649.33 190.91,655.25 197.15,655.25 199.07,649.33" fill="#f00"/><polygon points="209.07,655.78 204.03,659.44 205.95,665.37 212.18,665.37 214.11,659.44" fill="#f00"/><polygon points="227.11,664.45 222.07,668.11 223.99,674.03 230.22,674.03 232.15,668.11" fill="#f00"/><polygon points="249.16,656.50 244.12,660.16 246.05,666.09 252.28,666.09 254.20,660.16" fill="#f00"/><polygon points="275.02,656.50 269.98,660.16 271.91,666.09 278.14,666.09 280.06,660.16" fill="#f00"/><polygon points="306.65,656.50 301.61,660.16 303.53,666.09 309.76,666.09 311.69,660.16" fill="#f00"/><polygon points="338.33,656.50 333.28,660.16 335.21,666.09 341.44,666.09 343.37,660.16" fill="#f00"/><polygon points="364.24,656.50 359.20,660.16 361.12,666.09 367.35,666.09 369.28,660.16" fill="#f00"/><polygon points="385.74,656.50 380.70,660.16 382.62,666.09 388.85,666.09 390.78,660.16" fill="#f00"/><polygon points="404.33,656.50 399.29,660.16 401.22,666.09 407.45,666.09 409.37,660.16" fill="#f00"/><polygon points="419.72,656.50 414.68,660.16 416.61,666.09 422.84,666.09 424.76,660.16" fill="#f00"/><polygon points="431.85,656.50 426.81,660.16 428.73,666.09 434.96,666.09 436.89,660.16" fill="#f00"/><polygon points="444.63,656.50 439.59,660.16 441.51,666.09 447.75,666.09 449.67,660.16" fill="#f00"/><polygon points="458.41,656.50 453.37,660.16 455.30,666.09 461.53,666.09 463.45,660.16" fill="#f00"/><polygon points="475.05,656.50 470.01,660.16 471.94,666.09 478.17,666.09 480.09,660.16" fill="#f00"/><polygon points="493.90,656.50 488.86,660.16 490.78,666.09 497.01,666.09 498.94,660.16" fill="#f00"/><polygon points="515.15,656.50 510.11,660.16 512.03,666.09 518.26,666.09 520.19,660.16" fill="#f00"/><polygon points="540.16,656.50 535.12,660.16 537.04,666.09 543.27,666.09 545.20,660.16" fill="#f00"/><polygon points="568.83,656.50 563.79,660.16 565.71,666.09 571.94,666.09 573.87,660.16" fill="#f00"/><polygon points="601.71,656.50 596.67,660.16 598.59,666.09 604.82,666.09 606.75,660.16" fill="#f00"/><polygon points="638.79,656.50 633.75,660.16 635.68,666.09 641.91,666.09 643.84,660.16" fill="#f00"/><polygon points="682.85,656.50 677.81,660.16 679.74,666.09 685.97,666.09 687.89,660.16" fill="#f00"/><polygon points="727.71,656.50 722.67,660.16 724.59,666.09 730.82,666.09 732.75,660.16" fill="#f00"/><polygon points="762.89,656.50 757.85,660.16 759.78,666.09 766.01,666.09 767.93,660.16" fill="#f00"/><polygon points="797.98,656.50 792.94,660.16 794.86,666.09 801.09,666.09 803.02,660.16" fill="#f00"/><polygon points="822.79,656.50 817.74,660.16 819.67,666.09 825.90,666.09 827.83,660.16" fill="#f00"/><polygon points="848.00,656.50 842.96,660.16 844.88,666.09 851.11,666.09 853.04,660.16" fill="#f00"/><polygon points="873.21,656.50 868.17,660.16 870.09,666.09 876.32,666.09 878.25,660.16" fill="#f00"/><polygon points="888.29,656.50 883.25,660.16 885.18,666.09 891.41,666.09 893.33,660.16" fill="#f00"/><polygon points="908.19,656.50 903.15,660.16 905.07,666.09 911.31,666.09 913.23,660.16" fill="#f00"/><polygon points="923.58,656.50 918.54,660.16 920.46,666.09 926.69,666.09 928.62,660.16" fill="#f00"/><polygon points="933.30,656.50 928.26,660.16 930.18,666.09 936.42,666.09 938.34,660.16" fill="#f00"/>
<line x1="1158.70" y1="90.10" x2="1158.70" y2="739.15" stroke="#000" stroke-width="2.7"/>
<line x1="1157.35" y1="737.80" x2="1985.60" y2="737.80" stroke="#000" stroke-width="2.7"/>
<line x1="1183.70" y1="737.80" x2="1183.70" y2="725.30" stroke="#000" stroke-width="2.6"/>
<text x="1183.70" y="775.80" text-anchor="middle" class="tk">0</text>
<line x1="1233.74" y1="737.80" x2="1233.74" y2="731.30" stroke="#000" stroke-width="2.6"/>
<line x1="1283.78" y1="737.80" x2="1283.78" y2="725.30" stroke="#000" stroke-width="2.6"/>
<text x="1283.78" y="775.80" text-anchor="middle" class="tk">2</text>
<line x1="1333.82" y1="737.80" x2="1333.82" y2="731.30" stroke="#000" stroke-width="2.6"/>
<line x1="1383.86" y1="737.80" x2="1383.86" y2="725.30" stroke="#000" stroke-width="2.6"/>
<text x="1383.86" y="775.80" text-anchor="middle" class="tk">4</text>
<line x1="1433.90" y1="737.80" x2="1433.90" y2="731.30" stroke="#000" stroke-width="2.6"/>
<line x1="1483.94" y1="737.80" x2="1483.94" y2="725.30" stroke="#000" stroke-width="2.6"/>
<text x="1483.94" y="775.80" text-anchor="middle" class="tk">6</text>
<line x1="1533.98" y1="737.80" x2="1533.98" y2="731.30" stroke="#000" stroke-width="2.6"/>
<line x1="1584.02" y1="737.80" x2="1584.02" y2="725.30" stroke="#000" stroke-width="2.6"/>
<text x="1584.02" y="775.80" text-anchor="middle" class="tk">8</text>
<line x1="1634.06" y1="737.80" x2="1634.06" y2="731.30" stroke="#000" stroke-width="2.6"/>
<line x1="1684.10" y1="737.80" x2="1684.10" y2="725.30" stroke="#000" stroke-width="2.6"/>
<text x="1684.10" y="775.80" text-anchor="middle" class="tk">10</text>
<line x1="1734.14" y1="737.80" x2="1734.14" y2="731.30" stroke="#000" stroke-width="2.6"/>
<line x1="1784.18" y1="737.80" x2="1784.18" y2="725.30" stroke="#000" stroke-width="2.6"/>
<text x="1784.18" y="775.80" text-anchor="middle" class="tk">12</text>
<line x1="1834.22" y1="737.80" x2="1834.22" y2="731.30" stroke="#000" stroke-width="2.6"/>
<line x1="1884.26" y1="737.80" x2="1884.26" y2="725.30" stroke="#000" stroke-width="2.6"/>
<text x="1884.26" y="775.80" text-anchor="middle" class="tk">14</text>
<line x1="1934.30" y1="737.80" x2="1934.30" y2="731.30" stroke="#000" stroke-width="2.6"/>
<line x1="1984.34" y1="737.80" x2="1984.34" y2="725.30" stroke="#000" stroke-width="2.6"/>
<text x="1984.34" y="775.80" text-anchor="middle" class="tk">16</text>
<line x1="1158.70" y1="679.00" x2="1171.20" y2="679.00" stroke="#000" stroke-width="2.6"/>
<text x="1143.50" y="688.30" text-anchor="end" class="tk">0.00</text>
<line x1="1158.70" y1="620.25" x2="1165.20" y2="620.25" stroke="#000" stroke-width="2.6"/>
<line x1="1158.70" y1="561.50" x2="1171.20" y2="561.50" stroke="#000" stroke-width="2.6"/>
<text x="1143.50" y="570.80" text-anchor="end" class="tk">0.01</text>
<line x1="1158.70" y1="502.75" x2="1165.20" y2="502.75" stroke="#000" stroke-width="2.6"/>
<line x1="1158.70" y1="444.00" x2="1171.20" y2="444.00" stroke="#000" stroke-width="2.6"/>
<text x="1143.50" y="453.30" text-anchor="end" class="tk">0.02</text>
<line x1="1158.70" y1="385.25" x2="1165.20" y2="385.25" stroke="#000" stroke-width="2.6"/>
<line x1="1158.70" y1="326.50" x2="1171.20" y2="326.50" stroke="#000" stroke-width="2.6"/>
<text x="1143.50" y="335.80" text-anchor="end" class="tk">0.03</text>
<line x1="1158.70" y1="267.75" x2="1165.20" y2="267.75" stroke="#000" stroke-width="2.6"/>
<line x1="1158.70" y1="209.00" x2="1171.20" y2="209.00" stroke="#000" stroke-width="2.6"/>
<text x="1143.50" y="218.30" text-anchor="end" class="tk">0.04</text>
<line x1="1158.70" y1="150.25" x2="1165.20" y2="150.25" stroke="#000" stroke-width="2.6"/>
<line x1="1158.70" y1="91.50" x2="1171.20" y2="91.50" stroke="#000" stroke-width="2.6"/>
<text x="1143.50" y="100.80" text-anchor="end" class="tk">0.05</text>
<polyline points="1183.70,675.48 1196.21,608.50 1211.22,573.72 1229.24,584.53 1251.25,581.36 1277.07,582.65 1308.65,582.88 1340.28,582.65 1366.15,581.94 1387.61,583.71 1406.18,580.18 1421.54,582.65 1433.65,599.45 1446.41,668.31 1460.17,675.48 1476.78,686.05 1495.60,681.35 1516.82,680.17 1541.79,679.00" fill="none" stroke="#000" stroke-width="2.5" stroke-linejoin="miter" stroke-miterlimit="3"/><rect x="1179.90" y="671.68" width="7.6" height="7.6" fill="#000"/><rect x="1192.41" y="604.70" width="7.6" height="7.6" fill="#000"/><rect x="1207.42" y="569.92" width="7.6" height="7.6" fill="#000"/><rect x="1225.44" y="580.73" width="7.6" height="7.6" fill="#000"/><rect x="1247.45" y="577.56" width="7.6" height="7.6" fill="#000"/><rect x="1273.27" y="578.85" width="7.6" height="7.6" fill="#000"/><rect x="1304.85" y="579.09" width="7.6" height="7.6" fill="#000"/><rect x="1336.48" y="578.85" width="7.6" height="7.6" fill="#000"/><rect x="1362.35" y="578.14" width="7.6" height="7.6" fill="#000"/><rect x="1383.81" y="579.91" width="7.6" height="7.6" fill="#000"/><rect x="1402.38" y="576.38" width="7.6" height="7.6" fill="#000"/><rect x="1417.74" y="578.85" width="7.6" height="7.6" fill="#000"/><rect x="1429.85" y="595.65" width="7.6" height="7.6" fill="#000"/><rect x="1442.61" y="664.51" width="7.6" height="7.6" fill="#000"/><rect x="1456.37" y="671.68" width="7.6" height="7.6" fill="#000"/><rect x="1472.98" y="682.25" width="7.6" height="7.6" fill="#000"/><rect x="1491.80" y="677.55" width="7.6" height="7.6" fill="#000"/><rect x="1513.02" y="676.38" width="7.6" height="7.6" fill="#000"/><rect x="1537.99" y="675.20" width="7.6" height="7.6" fill="#000"/><rect x="1566.61" y="675.20" width="7.6" height="7.6" fill="#000"/><rect x="1599.44" y="675.20" width="7.6" height="7.6" fill="#000"/><rect x="1636.46" y="675.20" width="7.6" height="7.6" fill="#000"/><rect x="1680.45" y="675.20" width="7.6" height="7.6" fill="#000"/><rect x="1725.24" y="675.20" width="7.6" height="7.6" fill="#000"/><rect x="1760.36" y="675.20" width="7.6" height="7.6" fill="#000"/><rect x="1795.39" y="675.20" width="7.6" height="7.6" fill="#000"/><rect x="1820.16" y="675.20" width="7.6" height="7.6" fill="#000"/><rect x="1845.33" y="675.20" width="7.6" height="7.6" fill="#000"/><rect x="1870.50" y="675.20" width="7.6" height="7.6" fill="#000"/><rect x="1885.56" y="675.20" width="7.6" height="7.6" fill="#000"/><rect x="1905.43" y="675.20" width="7.6" height="7.6" fill="#000"/><rect x="1920.79" y="675.20" width="7.6" height="7.6" fill="#000"/><rect x="1930.50" y="675.20" width="7.6" height="7.6" fill="#000"/>
<polyline points="1183.70,673.12 1196.21,597.92 1211.22,403.23 1229.24,474.31 1251.25,451.99 1277.07,461.15 1308.65,456.34 1340.28,459.98 1366.15,455.16 1387.61,461.74 1406.18,450.34 1421.54,464.21 1433.65,477.61 1446.41,632.94 1460.17,673.12 1476.78,690.75 1495.60,681.35 1516.82,680.17 1541.79,679.00" fill="none" stroke="#000" stroke-width="2.5" stroke-linejoin="miter" stroke-miterlimit="3"/><circle cx="1183.70" cy="673.12" r="4.5" fill="#000"/><circle cx="1196.21" cy="597.92" r="4.5" fill="#000"/><circle cx="1211.22" cy="403.23" r="4.5" fill="#000"/><circle cx="1229.24" cy="474.31" r="4.5" fill="#000"/><circle cx="1251.25" cy="451.99" r="4.5" fill="#000"/><circle cx="1277.07" cy="461.15" r="4.5" fill="#000"/><circle cx="1308.65" cy="456.34" r="4.5" fill="#000"/><circle cx="1340.28" cy="459.98" r="4.5" fill="#000"/><circle cx="1366.15" cy="455.16" r="4.5" fill="#000"/><circle cx="1387.61" cy="461.74" r="4.5" fill="#000"/><circle cx="1406.18" cy="450.34" r="4.5" fill="#000"/><circle cx="1421.54" cy="464.21" r="4.5" fill="#000"/><circle cx="1433.65" cy="477.61" r="4.5" fill="#000"/><circle cx="1446.41" cy="632.94" r="4.5" fill="#000"/><circle cx="1460.17" cy="673.12" r="4.5" fill="#000"/><circle cx="1476.78" cy="690.75" r="4.5" fill="#000"/><circle cx="1495.60" cy="681.35" r="4.5" fill="#000"/><circle cx="1516.82" cy="680.17" r="4.5" fill="#000"/><circle cx="1541.79" cy="679.00" r="4.5" fill="#000"/><circle cx="1570.41" cy="679.00" r="4.5" fill="#000"/><circle cx="1603.24" cy="679.00" r="4.5" fill="#000"/><circle cx="1640.26" cy="679.00" r="4.5" fill="#000"/><circle cx="1684.25" cy="679.00" r="4.5" fill="#000"/><circle cx="1729.04" cy="679.00" r="4.5" fill="#000"/><circle cx="1764.16" cy="679.00" r="4.5" fill="#000"/><circle cx="1799.19" cy="679.00" r="4.5" fill="#000"/><circle cx="1823.96" cy="679.00" r="4.5" fill="#000"/><circle cx="1849.13" cy="679.00" r="4.5" fill="#000"/><circle cx="1874.30" cy="679.00" r="4.5" fill="#000"/><circle cx="1889.36" cy="679.00" r="4.5" fill="#000"/><circle cx="1909.23" cy="679.00" r="4.5" fill="#000"/><circle cx="1924.59" cy="679.00" r="4.5" fill="#000"/><circle cx="1934.30" cy="679.00" r="4.5" fill="#000"/>
<polyline points="1183.70,669.60 1196.21,586.17 1211.22,250.48 1229.24,369.74 1251.25,325.09 1277.07,344.24 1308.65,333.08 1340.28,341.89 1366.15,334.73 1387.61,344.24 1406.18,326.85 1421.54,354.58 1433.65,354.58 1446.41,575.01 1460.17,670.77 1476.78,694.27 1495.60,681.35 1516.82,680.17 1541.79,679.00" fill="none" stroke="#000" stroke-width="2.5" stroke-linejoin="miter" stroke-miterlimit="3"/><polygon points="1183.70,663.90 1188.80,673.10 1178.60,673.10" fill="#000"/><polygon points="1196.21,580.47 1201.31,589.67 1191.11,589.67" fill="#000"/><polygon points="1211.22,244.77 1216.32,253.97 1206.12,253.97" fill="#000"/><polygon points="1229.24,364.04 1234.34,373.24 1224.14,373.24" fill="#000"/><polygon points="1251.25,319.39 1256.35,328.59 1246.15,328.59" fill="#000"/><polygon points="1277.07,338.54 1282.17,347.74 1271.97,347.74" fill="#000"/><polygon points="1308.65,327.38 1313.75,336.58 1303.55,336.58" fill="#000"/><polygon points="1340.28,336.19 1345.38,345.39 1335.18,345.39" fill="#000"/><polygon points="1366.15,329.02 1371.25,338.22 1361.05,338.22" fill="#000"/><polygon points="1387.61,338.54 1392.71,347.74 1382.51,347.74" fill="#000"/><polygon points="1406.18,321.15 1411.28,330.35 1401.08,330.35" fill="#000"/><polygon points="1421.54,348.88 1426.64,358.08 1416.44,358.08" fill="#000"/><polygon points="1433.65,348.88 1438.75,358.08 1428.55,358.08" fill="#000"/><polygon points="1446.41,569.31 1451.51,578.51 1441.31,578.51" fill="#000"/><polygon points="1460.17,665.07 1465.27,674.27 1455.07,674.27" fill="#000"/><polygon points="1476.78,688.57 1481.88,697.77 1471.68,697.77" fill="#000"/><polygon points="1495.60,675.65 1500.70,684.85 1490.50,684.85" fill="#000"/><polygon points="1516.82,674.47 1521.92,683.67 1511.72,683.67" fill="#000"/><polygon points="1541.79,673.30 1546.89,682.50 1536.69,682.50" fill="#000"/><polygon points="1570.41,673.30 1575.51,682.50 1565.31,682.50" fill="#000"/><polygon points="1603.24,673.30 1608.34,682.50 1598.14,682.50" fill="#000"/><polygon points="1640.26,673.30 1645.36,682.50 1635.16,682.50" fill="#000"/><polygon points="1684.25,673.30 1689.35,682.50 1679.15,682.50" fill="#000"/><polygon points="1729.04,673.30 1734.14,682.50 1723.94,682.50" fill="#000"/><polygon points="1764.16,673.30 1769.26,682.50 1759.06,682.50" fill="#000"/><polygon points="1799.19,673.30 1804.29,682.50 1794.09,682.50" fill="#000"/><polygon points="1823.96,673.30 1829.06,682.50 1818.86,682.50" fill="#000"/><polygon points="1849.13,673.30 1854.23,682.50 1844.03,682.50" fill="#000"/><polygon points="1874.30,673.30 1879.40,682.50 1869.20,682.50" fill="#000"/><polygon points="1889.36,673.30 1894.46,682.50 1884.26,682.50" fill="#000"/><polygon points="1909.23,673.30 1914.33,682.50 1904.13,682.50" fill="#000"/><polygon points="1924.59,673.30 1929.69,682.50 1919.49,682.50" fill="#000"/><polygon points="1934.30,673.30 1939.40,682.50 1929.20,682.50" fill="#000"/>
<polyline points="1183.70,642.58 1196.21,581.48 1211.22,156.60 1229.24,293.48 1251.25,235.67 1277.07,263.99 1308.65,246.01 1340.28,259.06 1366.15,248.25 1387.61,260.70 1406.18,240.96 1421.54,272.57 1433.65,278.09 1446.41,516.50 1460.17,669.60 1476.78,697.80 1495.60,682.52 1516.82,680.17 1541.79,679.00" fill="none" stroke="#000" stroke-width="2.5" stroke-linejoin="miter" stroke-miterlimit="3"/><polygon points="1183.70,648.28 1188.80,639.08 1178.60,639.08" fill="#000"/><polygon points="1196.21,587.18 1201.31,577.98 1191.11,577.98" fill="#000"/><polygon points="1211.22,162.30 1216.32,153.10 1206.12,153.10" fill="#000"/><polygon points="1229.24,299.19 1234.34,289.99 1224.14,289.99" fill="#000"/><polygon points="1251.25,241.38 1256.35,232.18 1246.15,232.18" fill="#000"/><polygon points="1277.07,269.69 1282.17,260.49 1271.97,260.49" fill="#000"/><polygon points="1308.65,251.72 1313.75,242.52 1303.55,242.52" fill="#000"/><polygon points="1340.28,264.76 1345.38,255.56 1335.18,255.56" fill="#000"/><polygon points="1366.15,253.95 1371.25,244.75 1361.05,244.75" fill="#000"/><polygon points="1387.61,266.40 1392.71,257.20 1382.51,257.20" fill="#000"/><polygon points="1406.18,246.66 1411.28,237.46 1401.08,237.46" fill="#000"/><polygon points="1421.54,278.27 1426.64,269.07 1416.44,269.07" fill="#000"/><polygon points="1433.65,283.79 1438.75,274.59 1428.55,274.59" fill="#000"/><polygon points="1446.41,522.20 1451.51,513.00 1441.31,513.00" fill="#000"/><polygon points="1460.17,675.30 1465.27,666.10 1455.07,666.10" fill="#000"/><polygon points="1476.78,703.50 1481.88,694.30 1471.68,694.30" fill="#000"/><polygon points="1495.60,688.23 1500.70,679.03 1490.50,679.03" fill="#000"/><polygon points="1516.82,685.88 1521.92,676.68 1511.72,676.68" fill="#000"/><polygon points="1541.79,684.70 1546.89,675.50 1536.69,675.50" fill="#000"/><polygon points="1570.41,684.70 1575.51,675.50 1565.31,675.50" fill="#000"/><polygon points="1603.24,684.70 1608.34,675.50 1598.14,675.50" fill="#000"/><polygon points="1640.26,684.70 1645.36,675.50 1635.16,675.50" fill="#000"/><polygon points="1684.25,684.70 1689.35,675.50 1679.15,675.50" fill="#000"/><polygon points="1729.04,684.70 1734.14,675.50 1723.94,675.50" fill="#000"/><polygon points="1764.16,684.70 1769.26,675.50 1759.06,675.50" fill="#000"/><polygon points="1799.19,684.70 1804.29,675.50 1794.09,675.50" fill="#000"/><polygon points="1823.96,684.70 1829.06,675.50 1818.86,675.50" fill="#000"/><polygon points="1849.13,684.70 1854.23,675.50 1844.03,675.50" fill="#000"/><polygon points="1874.30,684.70 1879.40,675.50 1869.20,675.50" fill="#000"/><polygon points="1889.36,684.70 1894.46,675.50 1884.26,675.50" fill="#000"/><polygon points="1909.23,684.70 1914.33,675.50 1904.13,675.50" fill="#000"/><polygon points="1924.59,684.70 1929.69,675.50 1919.49,675.50" fill="#000"/><polygon points="1934.30,684.70 1939.40,675.50 1929.20,675.50" fill="#000"/>
<polyline points="1183.70,612.02 1196.21,582.65 1211.22,97.96 1229.24,242.25 1251.25,174.10 1277.07,208.65 1308.65,187.14 1340.28,202.19 1366.15,189.49 1387.61,202.19 1406.18,185.85 1421.54,209.35 1433.65,240.96 1446.41,461.74 1460.17,668.42 1476.78,701.91 1495.60,682.52 1516.82,680.17 1541.79,679.00" fill="none" stroke="#000" stroke-width="2.5" stroke-linejoin="miter" stroke-miterlimit="3"/><polygon points="1183.70,606.42 1189.30,612.02 1183.70,617.62 1178.10,612.02" fill="#000"/><polygon points="1196.21,577.05 1201.81,582.65 1196.21,588.25 1190.61,582.65" fill="#000"/><polygon points="1211.22,92.36 1216.82,97.96 1211.22,103.56 1205.62,97.96" fill="#000"/><polygon points="1229.24,236.65 1234.84,242.25 1229.24,247.85 1223.64,242.25" fill="#000"/><polygon points="1251.25,168.50 1256.85,174.10 1251.25,179.70 1245.65,174.10" fill="#000"/><polygon points="1277.07,203.05 1282.67,208.65 1277.07,214.25 1271.47,208.65" fill="#000"/><polygon points="1308.65,181.54 1314.25,187.14 1308.65,192.74 1303.05,187.14" fill="#000"/><polygon points="1340.28,196.59 1345.88,202.19 1340.28,207.78 1334.68,202.19" fill="#000"/><polygon points="1366.15,183.89 1371.75,189.49 1366.15,195.09 1360.55,189.49" fill="#000"/><polygon points="1387.61,196.59 1393.21,202.19 1387.61,207.78 1382.01,202.19" fill="#000"/><polygon points="1406.18,180.25 1411.78,185.85 1406.18,191.45 1400.58,185.85" fill="#000"/><polygon points="1421.54,203.75 1427.14,209.35 1421.54,214.95 1415.94,209.35" fill="#000"/><polygon points="1433.65,235.36 1439.25,240.96 1433.65,246.56 1428.05,240.96" fill="#000"/><polygon points="1446.41,456.14 1452.01,461.74 1446.41,467.34 1440.81,461.74" fill="#000"/><polygon points="1460.17,662.82 1465.77,668.42 1460.17,674.02 1454.57,668.42" fill="#000"/><polygon points="1476.78,696.31 1482.38,701.91 1476.78,707.51 1471.18,701.91" fill="#000"/><polygon points="1495.60,676.92 1501.20,682.52 1495.60,688.12 1490.00,682.52" fill="#000"/><polygon points="1516.82,674.57 1522.42,680.17 1516.82,685.77 1511.22,680.17" fill="#000"/><polygon points="1541.79,673.40 1547.39,679.00 1541.79,684.60 1536.19,679.00" fill="#000"/><polygon points="1570.41,673.40 1576.01,679.00 1570.41,684.60 1564.81,679.00" fill="#000"/><polygon points="1603.24,673.40 1608.84,679.00 1603.24,684.60 1597.64,679.00" fill="#000"/><polygon points="1640.26,673.40 1645.86,679.00 1640.26,684.60 1634.66,679.00" fill="#000"/><polygon points="1684.25,673.40 1689.85,679.00 1684.25,684.60 1678.65,679.00" fill="#000"/><polygon points="1729.04,673.40 1734.64,679.00 1729.04,684.60 1723.44,679.00" fill="#000"/><polygon points="1764.16,673.40 1769.76,679.00 1764.16,684.60 1758.56,679.00" fill="#000"/><polygon points="1799.19,673.40 1804.79,679.00 1799.19,684.60 1793.59,679.00" fill="#000"/><polygon points="1823.96,673.40 1829.56,679.00 1823.96,684.60 1818.36,679.00" fill="#000"/><polygon points="1849.13,673.40 1854.73,679.00 1849.13,684.60 1843.53,679.00" fill="#000"/><polygon points="1874.30,673.40 1879.90,679.00 1874.30,684.60 1868.70,679.00" fill="#000"/><polygon points="1889.36,673.40 1894.96,679.00 1889.36,684.60 1883.76,679.00" fill="#000"/><polygon points="1909.23,673.40 1914.83,679.00 1909.23,684.60 1903.63,679.00" fill="#000"/><polygon points="1924.59,673.40 1930.19,679.00 1924.59,684.60 1918.99,679.00" fill="#000"/><polygon points="1934.30,673.40 1939.90,679.00 1934.30,684.60 1928.70,679.00" fill="#000"/>
<polyline points="1183.70,679.00 1196.21,679.00 1211.22,679.00 1229.24,679.00 1251.25,679.00 1277.07,679.00 1308.65,679.00 1340.28,679.00 1366.15,679.00 1387.61,679.00 1406.18,679.00 1421.54,679.00 1433.65,679.00 1446.41,679.00 1460.17,679.00 1476.78,679.00 1495.60,679.00 1516.82,679.00 1541.79,679.00 1570.41,679.00 1603.24,679.00 1640.26,679.00 1684.25,679.00 1729.04,679.00 1764.16,679.00 1799.19,679.00 1823.96,679.00 1849.13,679.00 1874.30,679.00 1889.36,679.00 1909.23,679.00 1924.59,679.00 1934.30,679.00" fill="none" stroke="#f00" stroke-width="2.3" stroke-linejoin="miter" stroke-miterlimit="3"/><polygon points="1179.41,679.00 1186.81,673.90 1186.81,684.10" fill="#f00"/><polygon points="1191.92,679.00 1199.32,673.90 1199.32,684.10" fill="#f00"/><polygon points="1206.93,679.00 1214.33,673.90 1214.33,684.10" fill="#f00"/><polygon points="1224.94,679.00 1232.34,673.90 1232.34,684.10" fill="#f00"/><polygon points="1246.96,679.00 1254.36,673.90 1254.36,684.10" fill="#f00"/><polygon points="1272.78,679.00 1280.18,673.90 1280.18,684.10" fill="#f00"/><polygon points="1304.36,679.00 1311.76,673.90 1311.76,684.10" fill="#f00"/><polygon points="1335.98,679.00 1343.38,673.90 1343.38,684.10" fill="#f00"/><polygon points="1361.85,679.00 1369.25,673.90 1369.25,684.10" fill="#f00"/><polygon points="1383.32,679.00 1390.72,673.90 1390.72,684.10" fill="#f00"/><polygon points="1401.89,679.00 1409.29,673.90 1409.29,684.10" fill="#f00"/><polygon points="1417.25,679.00 1424.65,673.90 1424.65,684.10" fill="#f00"/><polygon points="1429.36,679.00 1436.76,673.90 1436.76,684.10" fill="#f00"/><polygon points="1442.12,679.00 1449.52,673.90 1449.52,684.10" fill="#f00"/><polygon points="1455.88,679.00 1463.28,673.90 1463.28,684.10" fill="#f00"/><polygon points="1472.49,679.00 1479.89,673.90 1479.89,684.10" fill="#f00"/><polygon points="1491.31,679.00 1498.71,673.90 1498.71,684.10" fill="#f00"/><polygon points="1512.52,679.00 1519.92,673.90 1519.92,684.10" fill="#f00"/><polygon points="1537.49,679.00 1544.89,673.90 1544.89,684.10" fill="#f00"/><polygon points="1566.12,679.00 1573.52,673.90 1573.52,684.10" fill="#f00"/><polygon points="1598.94,679.00 1606.34,673.90 1606.34,684.10" fill="#f00"/><polygon points="1635.97,679.00 1643.37,673.90 1643.37,684.10" fill="#f00"/><polygon points="1679.96,679.00 1687.36,673.90 1687.36,684.10" fill="#f00"/><polygon points="1724.74,679.00 1732.14,673.90 1732.14,684.10" fill="#f00"/><polygon points="1759.87,679.00 1767.27,673.90 1767.27,684.10" fill="#f00"/><polygon points="1794.90,679.00 1802.30,673.90 1802.30,684.10" fill="#f00"/><polygon points="1819.67,679.00 1827.07,673.90 1827.07,684.10" fill="#f00"/><polygon points="1844.84,679.00 1852.24,673.90 1852.24,684.10" fill="#f00"/><polygon points="1870.01,679.00 1877.41,673.90 1877.41,684.10" fill="#f00"/><polygon points="1885.07,679.00 1892.47,673.90 1892.47,684.10" fill="#f00"/><polygon points="1904.94,679.00 1912.34,673.90 1912.34,684.10" fill="#f00"/><polygon points="1920.30,679.00 1927.70,673.90 1927.70,684.10" fill="#f00"/><polygon points="1930.01,679.00 1937.41,673.90 1937.41,684.10" fill="#f00"/>
<polyline points="1183.70,679.00 1196.21,676.65 1211.22,675.48 1229.24,675.48 1251.25,679.00 1277.07,679.00 1308.65,679.00 1340.28,679.00 1366.15,679.00 1387.61,679.00 1406.18,679.00 1421.54,679.00 1433.65,679.00 1446.41,679.00 1460.17,679.00 1476.78,679.00 1495.60,679.00 1516.82,679.00 1541.79,679.00 1570.41,679.00 1603.24,679.00 1640.26,679.00 1684.25,679.00 1729.04,679.00 1764.16,679.00 1799.19,679.00 1823.96,679.00 1849.13,679.00 1874.30,679.00 1889.36,679.00 1909.23,679.00 1924.59,679.00 1934.30,679.00" fill="none" stroke="#f00" stroke-width="2.3" stroke-linejoin="miter" stroke-miterlimit="3"/><polygon points="1187.99,679.00 1180.59,673.90 1180.59,684.10" fill="#f00"/><polygon points="1200.50,676.65 1193.10,671.55 1193.10,681.75" fill="#f00"/><polygon points="1215.51,675.48 1208.11,670.38 1208.11,680.58" fill="#f00"/><polygon points="1233.53,675.48 1226.13,670.38 1226.13,680.58" fill="#f00"/><polygon points="1255.55,679.00 1248.15,673.90 1248.15,684.10" fill="#f00"/><polygon points="1281.37,679.00 1273.97,673.90 1273.97,684.10" fill="#f00"/><polygon points="1312.94,679.00 1305.54,673.90 1305.54,684.10" fill="#f00"/><polygon points="1344.57,679.00 1337.17,673.90 1337.17,684.10" fill="#f00"/><polygon points="1370.44,679.00 1363.04,673.90 1363.04,684.10" fill="#f00"/><polygon points="1391.90,679.00 1384.51,673.90 1384.51,684.10" fill="#f00"/><polygon points="1410.47,679.00 1403.07,673.90 1403.07,684.10" fill="#f00"/><polygon points="1425.83,679.00 1418.43,673.90 1418.43,684.10" fill="#f00"/><polygon points="1437.94,679.00 1430.54,673.90 1430.54,684.10" fill="#f00"/><polygon points="1450.70,679.00 1443.30,673.90 1443.30,684.10" fill="#f00"/><polygon points="1464.46,679.00 1457.06,673.90 1457.06,684.10" fill="#f00"/><polygon points="1481.08,679.00 1473.68,673.90 1473.68,684.10" fill="#f00"/><polygon points="1499.89,679.00 1492.49,673.90 1492.49,684.10" fill="#f00"/><polygon points="1521.11,679.00 1513.71,673.90 1513.71,684.10" fill="#f00"/><polygon points="1546.08,679.00 1538.68,673.90 1538.68,684.10" fill="#f00"/><polygon points="1574.70,679.00 1567.30,673.90 1567.30,684.10" fill="#f00"/><polygon points="1607.53,679.00 1600.13,673.90 1600.13,684.10" fill="#f00"/><polygon points="1644.56,679.00 1637.16,673.90 1637.16,684.10" fill="#f00"/><polygon points="1688.54,679.00 1681.14,673.90 1681.14,684.10" fill="#f00"/><polygon points="1733.33,679.00 1725.93,673.90 1725.93,684.10" fill="#f00"/><polygon points="1768.46,679.00 1761.06,673.90 1761.06,684.10" fill="#f00"/><polygon points="1803.48,679.00 1796.08,673.90 1796.08,684.10" fill="#f00"/><polygon points="1828.25,679.00 1820.85,673.90 1820.85,684.10" fill="#f00"/><polygon points="1853.42,679.00 1846.02,673.90 1846.02,684.10" fill="#f00"/><polygon points="1878.59,679.00 1871.19,673.90 1871.19,684.10" fill="#f00"/><polygon points="1893.66,679.00 1886.26,673.90 1886.26,684.10" fill="#f00"/><polygon points="1913.52,679.00 1906.12,673.90 1906.12,684.10" fill="#f00"/><polygon points="1928.88,679.00 1921.48,673.90 1921.48,684.10" fill="#f00"/><polygon points="1938.59,679.00 1931.19,673.90 1931.19,684.10" fill="#f00"/>
<polyline points="1183.70,679.00 1196.21,668.19 1211.22,667.25 1229.24,668.66 1251.25,679.00 1277.07,679.00 1308.65,679.00 1340.28,679.00 1366.15,679.00 1387.61,679.00 1406.18,679.00 1421.54,679.00 1433.65,679.00 1446.41,679.00 1460.17,679.00 1476.78,679.00 1495.60,679.00 1516.82,679.00 1541.79,679.00 1570.41,679.00 1603.24,679.00 1640.26,679.00 1684.25,679.00 1729.04,679.00 1764.16,679.00 1799.19,679.00 1823.96,679.00 1849.13,679.00 1874.30,679.00 1889.36,679.00 1909.23,679.00 1924.59,679.00 1934.30,679.00" fill="none" stroke="#f00" stroke-width="2.3" stroke-linejoin="miter" stroke-miterlimit="3"/><polygon points="1183.70,674.00 1179.37,676.50 1179.37,681.50 1183.70,684.00 1188.03,681.50 1188.03,676.50" fill="#f00"/><polygon points="1196.21,663.19 1191.88,665.69 1191.88,670.69 1196.21,673.19 1200.54,670.69 1200.54,665.69" fill="#f00"/><polygon points="1211.22,662.25 1206.89,664.75 1206.89,669.75 1211.22,672.25 1215.55,669.75 1215.55,664.75" fill="#f00"/><polygon points="1229.24,663.66 1224.91,666.16 1224.91,671.16 1229.24,673.66 1233.57,671.16 1233.57,666.16" fill="#f00"/><polygon points="1251.25,674.00 1246.92,676.50 1246.92,681.50 1251.25,684.00 1255.58,681.50 1255.58,676.50" fill="#f00"/><polygon points="1277.07,674.00 1272.74,676.50 1272.74,681.50 1277.07,684.00 1281.40,681.50 1281.40,676.50" fill="#f00"/><polygon points="1308.65,674.00 1304.32,676.50 1304.32,681.50 1308.65,684.00 1312.98,681.50 1312.98,676.50" fill="#f00"/><polygon points="1340.28,674.00 1335.95,676.50 1335.95,681.50 1340.28,684.00 1344.61,681.50 1344.61,676.50" fill="#f00"/><polygon points="1366.15,674.00 1361.82,676.50 1361.82,681.50 1366.15,684.00 1370.48,681.50 1370.48,676.50" fill="#f00"/><polygon points="1387.61,674.00 1383.28,676.50 1383.28,681.50 1387.61,684.00 1391.94,681.50 1391.94,676.50" fill="#f00"/><polygon points="1406.18,674.00 1401.85,676.50 1401.85,681.50 1406.18,684.00 1410.51,681.50 1410.51,676.50" fill="#f00"/><polygon points="1421.54,674.00 1417.21,676.50 1417.21,681.50 1421.54,684.00 1425.87,681.50 1425.87,676.50" fill="#f00"/><polygon points="1433.65,674.00 1429.32,676.50 1429.32,681.50 1433.65,684.00 1437.98,681.50 1437.98,676.50" fill="#f00"/><polygon points="1446.41,674.00 1442.08,676.50 1442.08,681.50 1446.41,684.00 1450.74,681.50 1450.74,676.50" fill="#f00"/><polygon points="1460.17,674.00 1455.84,676.50 1455.84,681.50 1460.17,684.00 1464.50,681.50 1464.50,676.50" fill="#f00"/><polygon points="1476.78,674.00 1472.45,676.50 1472.45,681.50 1476.78,684.00 1481.11,681.50 1481.11,676.50" fill="#f00"/><polygon points="1495.60,674.00 1491.27,676.50 1491.27,681.50 1495.60,684.00 1499.93,681.50 1499.93,676.50" fill="#f00"/><polygon points="1516.82,674.00 1512.49,676.50 1512.49,681.50 1516.82,684.00 1521.15,681.50 1521.15,676.50" fill="#f00"/><polygon points="1541.79,674.00 1537.46,676.50 1537.46,681.50 1541.79,684.00 1546.12,681.50 1546.12,676.50" fill="#f00"/><polygon points="1570.41,674.00 1566.08,676.50 1566.08,681.50 1570.41,684.00 1574.74,681.50 1574.74,676.50" fill="#f00"/><polygon points="1603.24,674.00 1598.91,676.50 1598.91,681.50 1603.24,684.00 1607.57,681.50 1607.57,676.50" fill="#f00"/><polygon points="1640.26,674.00 1635.93,676.50 1635.93,681.50 1640.26,684.00 1644.60,681.50 1644.60,676.50" fill="#f00"/><polygon points="1684.25,674.00 1679.92,676.50 1679.92,681.50 1684.25,684.00 1688.58,681.50 1688.58,676.50" fill="#f00"/><polygon points="1729.04,674.00 1724.71,676.50 1724.71,681.50 1729.04,684.00 1733.37,681.50 1733.37,676.50" fill="#f00"/><polygon points="1764.16,674.00 1759.83,676.50 1759.83,681.50 1764.16,684.00 1768.49,681.50 1768.49,676.50" fill="#f00"/><polygon points="1799.19,674.00 1794.86,676.50 1794.86,681.50 1799.19,684.00 1803.52,681.50 1803.52,676.50" fill="#f00"/><polygon points="1823.96,674.00 1819.63,676.50 1819.63,681.50 1823.96,684.00 1828.29,681.50 1828.29,676.50" fill="#f00"/><polygon points="1849.13,674.00 1844.80,676.50 1844.80,681.50 1849.13,684.00 1853.46,681.50 1853.46,676.50" fill="#f00"/><polygon points="1874.30,674.00 1869.97,676.50 1869.97,681.50 1874.30,684.00 1878.63,681.50 1878.63,676.50" fill="#f00"/><polygon points="1889.36,674.00 1885.03,676.50 1885.03,681.50 1889.36,684.00 1893.69,681.50 1893.69,676.50" fill="#f00"/><polygon points="1909.23,674.00 1904.90,676.50 1904.90,681.50 1909.23,684.00 1913.56,681.50 1913.56,676.50" fill="#f00"/><polygon points="1924.59,674.00 1920.26,676.50 1920.26,681.50 1924.59,684.00 1928.92,681.50 1928.92,676.50" fill="#f00"/><polygon points="1934.30,674.00 1929.97,676.50 1929.97,681.50 1934.30,684.00 1938.63,681.50 1938.63,676.50" fill="#f00"/>
<polyline points="1183.70,679.00 1196.21,649.62 1211.22,656.91 1229.24,659.85 1251.25,679.00 1277.07,679.00 1308.65,679.00 1340.28,679.00 1366.15,679.00 1387.61,679.00 1406.18,679.00 1421.54,679.00 1433.65,679.00 1446.41,679.00 1460.17,679.00 1476.78,679.00 1495.60,679.00 1516.82,679.00 1541.79,679.00 1570.41,679.00 1603.24,679.00 1640.26,679.00 1684.25,679.00 1729.04,679.00 1764.16,679.00 1799.19,679.00 1823.96,679.00 1849.13,679.00 1874.30,679.00 1889.36,679.00 1909.23,679.00 1924.59,679.00 1934.30,679.00" fill="none" stroke="#f00" stroke-width="2.3" stroke-linejoin="miter" stroke-miterlimit="3"/><polygon points="1183.70,673.40 1182.29,677.06 1178.37,677.27 1181.42,679.74 1180.41,683.53 1183.70,681.40 1186.99,683.53 1185.98,679.74 1189.03,677.27 1185.11,677.06" fill="#f00"/><polygon points="1196.21,644.02 1194.80,647.68 1190.88,647.89 1193.93,650.37 1192.92,654.16 1196.21,652.02 1199.50,654.16 1198.49,650.37 1201.54,647.89 1197.62,647.68" fill="#f00"/><polygon points="1211.22,651.31 1209.81,654.97 1205.90,655.18 1208.94,657.65 1207.93,661.44 1211.22,659.31 1214.51,661.44 1213.50,657.65 1216.55,655.18 1212.63,654.97" fill="#f00"/><polygon points="1229.24,654.25 1227.83,657.91 1223.91,658.12 1226.95,660.59 1225.94,664.38 1229.24,662.25 1232.53,664.38 1231.52,660.59 1234.56,658.12 1230.65,657.91" fill="#f00"/><polygon points="1251.25,673.40 1249.84,677.06 1245.93,677.27 1248.97,679.74 1247.96,683.53 1251.25,681.40 1254.55,683.53 1253.54,679.74 1256.58,677.27 1252.66,677.06" fill="#f00"/><polygon points="1277.07,673.40 1275.66,677.06 1271.75,677.27 1274.79,679.74 1273.78,683.53 1277.07,681.40 1280.37,683.53 1279.36,679.74 1282.40,677.27 1278.49,677.06" fill="#f00"/><polygon points="1308.65,673.40 1307.24,677.06 1303.32,677.27 1306.37,679.74 1305.36,683.53 1308.65,681.40 1311.94,683.53 1310.93,679.74 1313.98,677.27 1310.06,677.06" fill="#f00"/><polygon points="1340.28,673.40 1338.86,677.06 1334.95,677.27 1337.99,679.74 1336.98,683.53 1340.28,681.40 1343.57,683.53 1342.56,679.74 1345.60,677.27 1341.69,677.06" fill="#f00"/><polygon points="1366.15,673.40 1364.74,677.06 1360.82,677.27 1363.86,679.74 1362.85,683.53 1366.15,681.40 1369.44,683.53 1368.43,679.74 1371.47,677.27 1367.56,677.06" fill="#f00"/><polygon points="1387.61,673.40 1386.20,677.06 1382.29,677.27 1385.33,679.74 1384.32,683.53 1387.61,681.40 1390.90,683.53 1389.90,679.74 1392.94,677.27 1389.02,677.06" fill="#f00"/><polygon points="1406.18,673.40 1404.77,677.06 1400.85,677.27 1403.90,679.74 1402.89,683.53 1406.18,681.40 1409.47,683.53 1408.46,679.74 1411.50,677.27 1407.59,677.06" fill="#f00"/><polygon points="1421.54,673.40 1420.13,677.06 1416.21,677.27 1419.26,679.74 1418.25,683.53 1421.54,681.40 1424.83,683.53 1423.82,679.74 1426.87,677.27 1422.95,677.06" fill="#f00"/><polygon points="1433.65,673.40 1432.24,677.06 1428.32,677.27 1431.37,679.74 1430.36,683.53 1433.65,681.40 1436.94,683.53 1435.93,679.74 1438.98,677.27 1435.06,677.06" fill="#f00"/><polygon points="1446.41,673.40 1445.00,677.06 1441.08,677.27 1444.13,679.74 1443.12,683.53 1446.41,681.40 1449.70,683.53 1448.69,679.74 1451.74,677.27 1447.82,677.06" fill="#f00"/><polygon points="1460.17,673.40 1458.76,677.06 1454.85,677.27 1457.89,679.74 1456.88,683.53 1460.17,681.40 1463.46,683.53 1462.45,679.74 1465.50,677.27 1461.58,677.06" fill="#f00"/><polygon points="1476.78,673.40 1475.37,677.06 1471.46,677.27 1474.50,679.74 1473.49,683.53 1476.78,681.40 1480.08,683.53 1479.07,679.74 1482.11,677.27 1478.19,677.06" fill="#f00"/><polygon points="1495.60,673.40 1494.19,677.06 1490.27,677.27 1493.32,679.74 1492.31,683.53 1495.60,681.40 1498.89,683.53 1497.88,679.74 1500.93,677.27 1497.01,677.06" fill="#f00"/><polygon points="1516.82,673.40 1515.41,677.06 1511.49,677.27 1514.53,679.74 1513.52,683.53 1516.82,681.40 1520.11,683.53 1519.10,679.74 1522.14,677.27 1518.23,677.06" fill="#f00"/><polygon points="1541.79,673.40 1540.38,677.06 1536.46,677.27 1539.50,679.74 1538.49,683.53 1541.79,681.40 1545.08,683.53 1544.07,679.74 1547.11,677.27 1543.20,677.06" fill="#f00"/><polygon points="1570.41,673.40 1569.00,677.06 1565.08,677.27 1568.13,679.74 1567.12,683.53 1570.41,681.40 1573.70,683.53 1572.69,679.74 1575.74,677.27 1571.82,677.06" fill="#f00"/><polygon points="1603.24,673.40 1601.82,677.06 1597.91,677.27 1600.95,679.74 1599.94,683.53 1603.24,681.40 1606.53,683.53 1605.52,679.74 1608.56,677.27 1604.65,677.06" fill="#f00"/><polygon points="1640.26,673.40 1638.85,677.06 1634.94,677.27 1637.98,679.74 1636.97,683.53 1640.26,681.40 1643.56,683.53 1642.55,679.74 1645.59,677.27 1641.68,677.06" fill="#f00"/><polygon points="1684.25,673.40 1682.84,677.06 1678.92,677.27 1681.97,679.74 1680.96,683.53 1684.25,681.40 1687.54,683.53 1686.53,679.74 1689.58,677.27 1685.66,677.06" fill="#f00"/><polygon points="1729.04,673.40 1727.63,677.06 1723.71,677.27 1726.75,679.74 1725.74,683.53 1729.04,681.40 1732.33,683.53 1731.32,679.74 1734.36,677.27 1730.45,677.06" fill="#f00"/><polygon points="1764.16,673.40 1762.75,677.06 1758.84,677.27 1761.88,679.74 1760.87,683.53 1764.16,681.40 1767.46,683.53 1766.45,679.74 1769.49,677.27 1765.57,677.06" fill="#f00"/><polygon points="1799.19,673.40 1797.78,677.06 1793.87,677.27 1796.91,679.74 1795.90,683.53 1799.19,681.40 1802.48,683.53 1801.47,679.74 1804.52,677.27 1800.60,677.06" fill="#f00"/><polygon points="1823.96,673.40 1822.55,677.06 1818.64,677.27 1821.68,679.74 1820.67,683.53 1823.96,681.40 1827.25,683.53 1826.24,679.74 1829.29,677.27 1825.37,677.06" fill="#f00"/><polygon points="1849.13,673.40 1847.72,677.06 1843.81,677.27 1846.85,679.74 1845.84,683.53 1849.13,681.40 1852.42,683.53 1851.41,679.74 1854.46,677.27 1850.54,677.06" fill="#f00"/><polygon points="1874.30,673.40 1872.89,677.06 1868.98,677.27 1872.02,679.74 1871.01,683.53 1874.30,681.40 1877.59,683.53 1876.58,679.74 1879.63,677.27 1875.71,677.06" fill="#f00"/><polygon points="1889.36,673.40 1887.95,677.06 1884.04,677.27 1887.08,679.74 1886.07,683.53 1889.36,681.40 1892.66,683.53 1891.65,679.74 1894.69,677.27 1890.77,677.06" fill="#f00"/><polygon points="1909.23,673.40 1907.82,677.06 1903.90,677.27 1906.95,679.74 1905.94,683.53 1909.23,681.40 1912.52,683.53 1911.51,679.74 1914.56,677.27 1910.64,677.06" fill="#f00"/><polygon points="1924.59,673.40 1923.18,677.06 1919.27,677.27 1922.31,679.74 1921.30,683.53 1924.59,681.40 1927.88,683.53 1926.87,679.74 1929.92,677.27 1926.00,677.06" fill="#f00"/><polygon points="1934.30,673.40 1932.89,677.06 1928.97,677.27 1932.02,679.74 1931.01,683.53 1934.30,681.40 1937.59,683.53 1936.58,679.74 1939.63,677.27 1935.71,677.06" fill="#f00"/>
<polyline points="1183.70,679.00 1196.21,623.77 1211.22,640.23 1229.24,645.51 1251.25,679.00 1277.07,679.00 1308.65,679.00 1340.28,679.00 1366.15,679.00 1387.61,679.00 1406.18,679.00 1421.54,679.00 1433.65,679.00 1446.41,679.00 1460.17,679.00 1476.78,679.00 1495.60,679.00 1516.82,679.00 1541.79,679.00 1570.41,679.00 1603.24,679.00 1640.26,679.00 1684.25,679.00 1729.04,679.00 1764.16,679.00 1799.19,679.00 1823.96,679.00 1849.13,679.00 1874.30,679.00 1889.36,679.00 1909.23,679.00 1924.59,679.00 1934.30,679.00" fill="none" stroke="#f00" stroke-width="2.3" stroke-linejoin="miter" stroke-miterlimit="3"/><polygon points="1183.70,673.70 1178.66,677.36 1180.58,683.29 1186.82,683.29 1188.74,677.36" fill="#f00"/><polygon points="1196.21,618.48 1191.17,622.14 1193.09,628.06 1199.33,628.06 1201.25,622.14" fill="#f00"/><polygon points="1211.22,634.93 1206.18,638.59 1208.11,644.51 1214.34,644.51 1216.26,638.59" fill="#f00"/><polygon points="1229.24,640.21 1224.20,643.87 1226.12,649.80 1232.35,649.80 1234.28,643.87" fill="#f00"/><polygon points="1251.25,673.70 1246.21,677.36 1248.14,683.29 1254.37,683.29 1256.29,677.36" fill="#f00"/><polygon points="1277.07,673.70 1272.03,677.36 1273.96,683.29 1280.19,683.29 1282.12,677.36" fill="#f00"/><polygon points="1308.65,673.70 1303.61,677.36 1305.53,683.29 1311.77,683.29 1313.69,677.36" fill="#f00"/><polygon points="1340.28,673.70 1335.23,677.36 1337.16,683.29 1343.39,683.29 1345.32,677.36" fill="#f00"/><polygon points="1366.15,673.70 1361.11,677.36 1363.03,683.29 1369.26,683.29 1371.19,677.36" fill="#f00"/><polygon points="1387.61,673.70 1382.57,677.36 1384.50,683.29 1390.73,683.29 1392.65,677.36" fill="#f00"/><polygon points="1406.18,673.70 1401.14,677.36 1403.06,683.29 1409.29,683.29 1411.22,677.36" fill="#f00"/><polygon points="1421.54,673.70 1416.50,677.36 1418.42,683.29 1424.66,683.29 1426.58,677.36" fill="#f00"/><polygon points="1433.65,673.70 1428.61,677.36 1430.53,683.29 1436.77,683.29 1438.69,677.36" fill="#f00"/><polygon points="1446.41,673.70 1441.37,677.36 1443.29,683.29 1449.53,683.29 1451.45,677.36" fill="#f00"/><polygon points="1460.17,673.70 1455.13,677.36 1457.06,683.29 1463.29,683.29 1465.21,677.36" fill="#f00"/><polygon points="1476.78,673.70 1471.74,677.36 1473.67,683.29 1479.90,683.29 1481.82,677.36" fill="#f00"/><polygon points="1495.60,673.70 1490.56,677.36 1492.48,683.29 1498.71,683.29 1500.64,677.36" fill="#f00"/><polygon points="1516.82,673.70 1511.78,677.36 1513.70,683.29 1519.93,683.29 1521.86,677.36" fill="#f00"/><polygon points="1541.79,673.70 1536.75,677.36 1538.67,683.29 1544.90,683.29 1546.83,677.36" fill="#f00"/><polygon points="1570.41,673.70 1565.37,677.36 1567.29,683.29 1573.52,683.29 1575.45,677.36" fill="#f00"/><polygon points="1603.24,673.70 1598.19,677.36 1600.12,683.29 1606.35,683.29 1608.28,677.36" fill="#f00"/><polygon points="1640.26,673.70 1635.22,677.36 1637.15,683.29 1643.38,683.29 1645.31,677.36" fill="#f00"/><polygon points="1684.25,673.70 1679.21,677.36 1681.13,683.29 1687.37,683.29 1689.29,677.36" fill="#f00"/><polygon points="1729.04,673.70 1724.00,677.36 1725.92,683.29 1732.15,683.29 1734.08,677.36" fill="#f00"/><polygon points="1764.16,673.70 1759.12,677.36 1761.05,683.29 1767.28,683.29 1769.20,677.36" fill="#f00"/><polygon points="1799.19,673.70 1794.15,677.36 1796.08,683.29 1802.31,683.29 1804.23,677.36" fill="#f00"/><polygon points="1823.96,673.70 1818.92,677.36 1820.85,683.29 1827.08,683.29 1829.00,677.36" fill="#f00"/><polygon points="1849.13,673.70 1844.09,677.36 1846.02,683.29 1852.25,683.29 1854.17,677.36" fill="#f00"/><polygon points="1874.30,673.70 1869.26,677.36 1871.19,683.29 1877.42,683.29 1879.34,677.36" fill="#f00"/><polygon points="1889.36,673.70 1884.32,677.36 1886.25,683.29 1892.48,683.29 1894.40,677.36" fill="#f00"/><polygon points="1909.23,673.70 1904.19,677.36 1906.11,683.29 1912.35,683.29 1914.27,677.36" fill="#f00"/><polygon points="1924.59,673.70 1919.55,677.36 1921.48,683.29 1927.71,683.29 1929.63,677.36" fill="#f00"/><polygon points="1934.30,673.70 1929.26,677.36 1931.18,683.29 1937.42,683.29 1939.34,677.36" fill="#f00"/>
<text x="480.50" y="116.90" class="lt" fill="#000">traditional micro coextrusion</text>
<line x1="479.30" y1="148.80" x2="551.50" y2="148.80" stroke="#000" stroke-width="2.6"/>
<rect x="511.50" y="145.00" width="7.6" height="7.6" fill="#000"/>
<text x="559.00" y="160.10" class="lg" fill="#000">0.05mm<tspan class="sup" dy="-13.3">3</tspan><tspan dy="13.3">/s</tspan></text>
<line x1="699.90" y1="148.80" x2="772.10" y2="148.80" stroke="#000" stroke-width="2.6"/>
<circle cx="735.90" cy="148.80" r="4.5" fill="#000"/>
<text x="779.00" y="160.10" class="lg" fill="#000">0.1mm<tspan class="sup" dy="-13.3">3</tspan><tspan dy="13.3">/s</tspan></text>
<line x1="479.30" y1="191.70" x2="551.50" y2="191.70" stroke="#000" stroke-width="2.6"/>
<polygon points="515.30,186.00 520.40,195.20 510.20,195.20" fill="#000"/>
<text x="559.00" y="203.00" class="lg" fill="#000">0.15mm<tspan class="sup" dy="-13.3">3</tspan><tspan dy="13.3">/s</tspan></text>
<line x1="699.90" y1="191.70" x2="772.10" y2="191.70" stroke="#000" stroke-width="2.6"/>
<polygon points="735.90,197.40 741.00,188.20 730.80,188.20" fill="#000"/>
<text x="779.00" y="203.00" class="lg" fill="#000">0.2mm<tspan class="sup" dy="-13.3">3</tspan><tspan dy="13.3">/s</tspan></text>
<line x1="479.30" y1="234.20" x2="551.50" y2="234.20" stroke="#000" stroke-width="2.6"/>
<polygon points="515.30,228.60 520.90,234.20 515.30,239.80 509.70,234.20" fill="#000"/>
<text x="559.00" y="245.50" class="lg" fill="#000">0.25mm<tspan class="sup" dy="-13.3">3</tspan><tspan dy="13.3">/s</tspan></text>
<text x="480.50" y="321.90" class="lt" fill="#f00">gas-assisted micro coextrusion</text>
<line x1="479.30" y1="354.50" x2="551.50" y2="354.50" stroke="#f00" stroke-width="2.6"/>
<polygon points="511.01,354.50 518.41,349.40 518.41,359.60" fill="#f00"/>
<text x="559.00" y="365.80" class="lg" fill="#f00">0.05mm<tspan class="sup" dy="-13.3">3</tspan><tspan dy="13.3">/s</tspan></text>
<line x1="692.20" y1="354.50" x2="764.40" y2="354.50" stroke="#f00" stroke-width="2.6"/>
<polygon points="732.49,354.50 725.09,349.40 725.09,359.60" fill="#f00"/>
<text x="770.00" y="365.80" class="lg" fill="#f00">0.1mm<tspan class="sup" dy="-13.3">3</tspan><tspan dy="13.3">/s</tspan></text>
<line x1="479.30" y1="397.40" x2="551.50" y2="397.40" stroke="#f00" stroke-width="2.6"/>
<polygon points="515.30,392.40 510.97,394.90 510.97,399.90 515.30,402.40 519.63,399.90 519.63,394.90" fill="#f00"/>
<text x="559.00" y="408.70" class="lg" fill="#f00">0.15mm<tspan class="sup" dy="-13.3">3</tspan><tspan dy="13.3">/s</tspan></text>
<line x1="692.20" y1="397.40" x2="764.40" y2="397.40" stroke="#f00" stroke-width="2.6"/>
<polygon points="728.20,391.80 726.79,395.46 722.87,395.67 725.92,398.14 724.91,401.93 728.20,399.80 731.49,401.93 730.48,398.14 733.53,395.67 729.61,395.46" fill="#f00"/>
<text x="770.00" y="408.70" class="lg" fill="#f00">0.2mm<tspan class="sup" dy="-13.3">3</tspan><tspan dy="13.3">/s</tspan></text>
<line x1="479.30" y1="440.70" x2="551.50" y2="440.70" stroke="#f00" stroke-width="2.6"/>
<polygon points="515.30,435.40 510.26,439.06 512.18,444.99 518.42,444.99 520.34,439.06" fill="#f00"/>
<text x="559.00" y="452.00" class="lg" fill="#f00">0.25mm<tspan class="sup" dy="-13.3">3</tspan><tspan dy="13.3">/s</tspan></text>
<text x="1523.60" y="139.70" class="lt" fill="#000">traditional micro co-extrusion</text>
<line x1="1522.40" y1="171.20" x2="1594.60" y2="171.20" stroke="#000" stroke-width="2.6"/>
<rect x="1554.60" y="167.40" width="7.6" height="7.6" fill="#000"/>
<text x="1601.40" y="182.50" class="lg" fill="#000">0.05mm<tspan class="sup" dy="-13.3">3</tspan><tspan dy="13.3">/s</tspan></text>
<line x1="1742.40" y1="171.20" x2="1814.60" y2="171.20" stroke="#000" stroke-width="2.6"/>
<circle cx="1778.40" cy="171.20" r="4.5" fill="#000"/>
<text x="1821.00" y="182.50" class="lg" fill="#000">0.1mm<tspan class="sup" dy="-13.3">3</tspan><tspan dy="13.3">/s</tspan></text>
<line x1="1522.40" y1="213.00" x2="1594.60" y2="213.00" stroke="#000" stroke-width="2.6"/>
<polygon points="1558.40,207.30 1563.50,216.50 1553.30,216.50" fill="#000"/>
<text x="1601.40" y="224.30" class="lg" fill="#000">0.15mm<tspan class="sup" dy="-13.3">3</tspan><tspan dy="13.3">/s</tspan></text>
<line x1="1742.40" y1="213.00" x2="1814.60" y2="213.00" stroke="#000" stroke-width="2.6"/>
<polygon points="1778.40,218.70 1783.50,209.50 1773.30,209.50" fill="#000"/>
<text x="1821.00" y="224.30" class="lg" fill="#000">0.2mm<tspan class="sup" dy="-13.3">3</tspan><tspan dy="13.3">/s</tspan></text>
<line x1="1522.40" y1="254.80" x2="1594.60" y2="254.80" stroke="#000" stroke-width="2.6"/>
<polygon points="1558.40,249.20 1564.00,254.80 1558.40,260.40 1552.80,254.80" fill="#000"/>
<text x="1601.40" y="266.10" class="lg" fill="#000">0.25mm<tspan class="sup" dy="-13.3">3</tspan><tspan dy="13.3">/s</tspan></text>
<text x="1523.60" y="340.00" class="lt" fill="#f00">gas-assisted micro co-extrusion</text>
<line x1="1522.40" y1="371.50" x2="1594.60" y2="371.50" stroke="#f00" stroke-width="2.6"/>
<polygon points="1554.11,371.50 1561.51,366.40 1561.51,376.60" fill="#f00"/>
<text x="1601.40" y="382.80" class="lg" fill="#f00">0.05mm<tspan class="sup" dy="-13.3">3</tspan><tspan dy="13.3">/s</tspan></text>
<line x1="1734.80" y1="371.50" x2="1807.00" y2="371.50" stroke="#f00" stroke-width="2.6"/>
<polygon points="1775.09,371.50 1767.69,366.40 1767.69,376.60" fill="#f00"/>
<text x="1813.60" y="382.80" class="lg" fill="#f00">0.1mm<tspan class="sup" dy="-13.3">3</tspan><tspan dy="13.3">/s</tspan></text>
<line x1="1522.40" y1="413.30" x2="1594.60" y2="413.30" stroke="#f00" stroke-width="2.6"/>
<polygon points="1558.40,408.30 1554.07,410.80 1554.07,415.80 1558.40,418.30 1562.73,415.80 1562.73,410.80" fill="#f00"/>
<text x="1601.40" y="424.60" class="lg" fill="#f00">0.15mm<tspan class="sup" dy="-13.3">3</tspan><tspan dy="13.3">/s</tspan></text>
<line x1="1734.80" y1="413.30" x2="1807.00" y2="413.30" stroke="#f00" stroke-width="2.6"/>
<polygon points="1770.80,407.70 1769.39,411.36 1765.47,411.57 1768.52,414.04 1767.51,417.83 1770.80,415.70 1774.09,417.83 1773.08,414.04 1776.13,411.57 1772.21,411.36" fill="#f00"/>
<text x="1813.60" y="424.60" class="lg" fill="#f00">0.2mm<tspan class="sup" dy="-13.3">3</tspan><tspan dy="13.3">/s</tspan></text>
<line x1="1522.40" y1="455.10" x2="1594.60" y2="455.10" stroke="#f00" stroke-width="2.6"/>
<polygon points="1558.40,449.80 1553.36,453.46 1555.28,459.39 1561.52,459.39 1563.44,453.46" fill="#f00"/>
<text x="1601.40" y="466.40" class="lg" fill="#f00">0.25mm<tspan class="sup" dy="-13.3">3</tspan><tspan dy="13.3">/s</tspan></text>
<text x="458" y="821.8" class="ax">Z-axis (mm)</text>
<text x="1455.2" y="820.7" class="ax">Z-axis (mm)</text>
<text transform="translate(68,482.5) rotate(-90)" class="ax" style="font-family:'Liberation Serif', 'Noto Serif CJK SC', serif"><tspan font-style="italic">N</tspan><tspan font-size="27" dy="11" dx="1.5">1</tspan><tspan dy="-11" dx="2"> （</tspan><tspan dx="-3.5">MPa</tspan><tspan dx="10"> ）</tspan></text>
<text transform="translate(1064,476) rotate(-90)" class="ax"><tspan font-style="italic">N</tspan><tspan font-size="27" dy="11">1</tspan><tspan dy="-11"> (M</tspan><tspan dx="-1.5">Pa)</tspan></text>
<text x="0" y="40" class="pl">(a<tspan dx="-1">)</tspan></text>
<text x="1163.5" y="40" class="pl">(<tspan dx="2">b</tspan><tspan dx="-0.6">)</tspan></text>
</svg></body></html>
